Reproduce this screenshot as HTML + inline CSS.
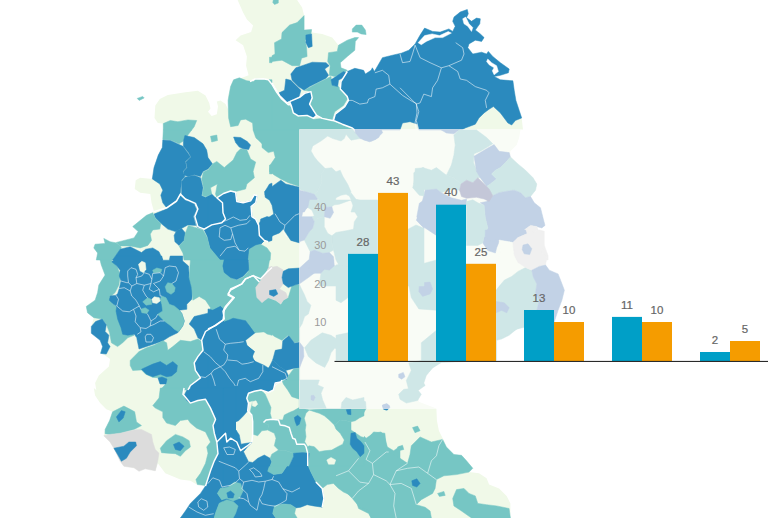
<!DOCTYPE html><html><head><meta charset="utf-8"><style>
html,body{margin:0;padding:0;background:#fff}
body{width:768px;height:518px;position:relative;overflow:hidden;font-family:"Liberation Sans",sans-serif}
.v{position:absolute;width:30px;text-align:center;font-size:11.5px;line-height:12px;color:#666;-webkit-text-stroke:0.2px #666}
.t{position:absolute;left:305.4px;width:21px;text-align:right;font-size:11px;line-height:12px;color:#9a9a9a}
</style></head><body>
<svg width="768" height="518" viewBox="0 0 768 518" style="position:absolute;left:0;top:0">
<defs><clipPath id="pc"><rect x="299.5" y="129.5" width="468.5" height="279.1"/></clipPath></defs>
<g><path d="M237.6,0L243.1,12.5L246.9,19.6L253.1,25.6L251.1,32.1L240.6,35.6L235.6,40.2L243.1,45.2L246.9,56.5L246.1,65.7L248.6,75.3L240.6,78.3L233.6,79.8L230.6,86.6L228.1,96.6L228.6,110.4L225.5,104.1L220.5,100.4L216.8,101.6L218,106.6L216.8,114.2L211.7,115.9L208,111.7L210.5,108.4L209.2,102.9L205.5,95.4L197.9,90.8L185.4,92.3L167.8,94.9L159.8,99.1L155.3,105.4L154.5,117.9L157.8,123L162.8,123.5L163.3,130L162.8,140L162.3,147.6L158.3,155.1L154,167.6L152.3,178.9L140.2,177.7L135.7,180.2L134.7,189L140.2,192.7L150.3,194L151.5,202.8L154,211.6L146.5,215.3L140.2,221.6L132.7,226.6L138.2,231.6L134,237.9L116.4,242.4L110.1,241.7L103.8,238.4L105.1,243.4L95.1,244.2L93.8,247.9L97.6,253L96.3,260L100.1,260L101.3,265L105.1,275.1L98.8,285.1L97.6,292.6L95.1,300.2L86.3,306.4L87.5,312.7L93.8,317.7L91.3,326.5L91.3,332.8L100.1,340.3L102.6,346.6L100.1,352.8L105.1,355.4L110.1,359.1L108.9,366.6L98.8,375.4L95.1,383L96.3,390L93.8,388L95.1,395.5L100.1,403.1L106.3,409.3L112.6,411.8L109.6,420.6L105.1,429.4L103.8,435.7L110.1,442L113.9,448.2L120.2,460.8L123.9,465.8L134,467.8L139,470.8L145.2,468.3L155.3,470.8L157.8,463.3L165.3,473.3L180.4,479.6L190.4,480.8L196.7,484.6L205.5,485.9L200.5,493.4L190.4,503.4L185.4,511L180.4,518L510.4,518L510.4,503.4L506.6,495.9L499.1,488.4L489.1,484.6L486.6,478.3L479,473.3L469,472.1L472.8,468.3L466.5,460.8L461.5,455.3L453.9,454.5L446.4,447L443.9,440.7L438.9,430.7L436.9,420.6L436.4,408.6L418.8,401.8L418.8,390L425.1,385.5L423.8,383L426.3,375.4L432.6,367.9L441.4,362.4L496.6,340.3L506.7,335.4L514.2,330.4L524.2,325.4L539.3,325.4L554.3,321.8L558.1,310.3L561.9,300.3L564.4,290.2L560.6,280.2L558.1,273.9L549.3,270.2L545.6,265.1L546.8,257.6L541.8,252.6L544.3,245.1L544.3,245.4L540.5,235.4L536.8,226.6L541.8,227.9L545,225.4L543,217.8L540.5,207.8L534.3,202.8L530.5,196.5L535.5,190.2L536.8,184L533,177.7L525.5,170.2L517.9,163.9L510.4,156.3L510.4,151.3L516.7,145.1L519.2,137.5L520.5,130L523,130L521.7,117.9L519.2,110.4L515.9,100.4L514.2,90.3L512.9,80.8L500.4,79.8L494.1,76.5L500.4,75.3L508.4,72.8L509.2,69L500.4,62.7L492.8,56.5L488.3,51.4L486.6,54L481.6,52.2L472.8,54L467.8,47.7L469,43.9L475.3,40.2L481.6,41.4L484.1,37.6L480.3,33.9L475.3,30.1L479.8,23.8L480.3,18.8L476.5,18.1L471.5,21.3L466.5,17.6L468.3,13.8L467.3,9.5L460.2,12L454,17.1L452.7,21.3L455.2,26.3L452.7,31.4L448.9,28.9L440.2,32.1L432.6,31.4L424.6,28.1L420.1,35.1L415.1,43.9L408.8,50.2L401.3,53.2L392.5,55.2L382.4,57.7L374.4,71.5L372.4,67.8L371.1,70.3L365.4,74L363.6,70.3L354.8,68.3L347.3,71.5L347.3,70.3L341,67.8L340.3,62.7L347.3,56.5L354.8,50.2L355.3,41.4L358.6,37.6L354.8,37.6L347.3,40.2L338.5,45.2L332.2,37.6L322.2,33.9L312.2,32.6L311.6,29.6L304.1,30.1L304.1,15.6L302.1,7.5L297.1,0Z" fill="#f0f9e8"/>
<path d="M137.2,98.4L142.7,96.4L144.2,97.9L139.2,100.4Z" fill="#76c6c4" stroke="#76c6c4" stroke-width="0.5"/>
<path d="M163.3,130L163.3,123.5L170.3,120.5L177.9,121.7L187.9,119.9L196.7,120.5L194.2,126.7L191.7,130Z" fill="#76c6c4" stroke="#76c6c4" stroke-width="0.5"/>
<path d="M230.6,86.6L233.6,79.8L239.3,77.8L246.9,80.8L253.7,81.6L255.7,79L272,79.8L272,130L253.1,130L252.6,123L245.6,119.2L240.6,119.9L238.1,125.5L230.6,126.7L228.6,117.9L228.1,100.4Z" fill="#76c6c4" stroke="#76c6c4" stroke-width="0.5"/>
<path d="M269.5,57.2L272,57.2L272,62.7L269.5,62.7Z" fill="#76c6c4" stroke="#76c6c4" stroke-width="0.5"/>
<path d="M273.3,0L278.3,0L278.3,3L274.5,4.5L272.8,2.5Z" fill="#76c6c4" stroke="#76c6c4" stroke-width="0.5"/>
<path d="M304.1,15.6L297.1,22.6L289.6,25.1L282,32.6L281.5,38.9L274.5,42.7L275,54L272,55.7L272,61.5L282,60.2L292.1,65.7L299.6,65.7L301.6,58.2L307.1,56.5L306.6,47.7L305.1,40.2L310.9,33.9L311.6,29.6L304.1,30.1Z" fill="#76c6c4" stroke="#76c6c4" stroke-width="0.5"/>
<path d="M305.9,35.1L311.6,33.9L312.2,46.4L308.4,47.7L305.9,42.7Z" fill="#2b8abe" stroke="#2b8abe" stroke-width="0.5"/>
<path d="M354.8,37.6L347.3,40.2L338.5,45.2L337.2,51.4L328.5,52.7L327.7,61.5L330.2,65.7L329.2,75.3L334.7,76.5L344.8,72.8L347.3,70.3L341,67.8L340.3,62.7L347.3,56.5L354.8,50.2L355.3,41.4L358.6,37.6Z" fill="#76c6c4" stroke="#76c6c4" stroke-width="0.5"/>
<path d="M352.3,28.9L356.1,25.1L361.8,25.1L365.4,30.1L366.1,34.6L361.1,33.9L357.3,32.1L352.3,32.1Z" fill="#76c6c4" stroke="#76c6c4" stroke-width="0.5"/>
<path d="M295.8,67.8L302.1,65.7L312.2,62.2L326,62.7L329.2,65.7L324.7,69L328.5,75.3L326,78.3L317.2,82.8L309.6,86.6L304.1,90.3L298.3,86.6L292.1,80.3L290.8,74Z" fill="#2b8abe" stroke="#2b8abe" stroke-width="0.5"/>
<path d="M285.8,79L290.8,80.3L297.1,86.6L300.9,90.3L299.1,96.6L290.8,100.4L287.1,102.9L279.5,95.4L279,92.8L284.5,90.3Z" fill="#2b8abe" stroke="#2b8abe" stroke-width="0.5"/>
<path d="M289.6,101.6L299.6,97.4L304.6,93.4L310.9,91.6L312.2,97.9L309.6,104.1L313.4,110.4L316.7,115.4L313.4,118.4L307.1,115.4L298.3,115.9L293.3,112.9L291.6,106.6Z" fill="#2b8abe" stroke="#2b8abe" stroke-width="0.5"/>
<path d="M304.6,90.3L317.2,83.3L326,79L331,76.5L332.2,85.3L338.5,86.6L344.8,93.4L347.3,99.1L343.5,105.4L334.7,111.7L332.2,119.9L322.2,117.9L316.7,115.4L313.4,110.4L310.1,104.1L312.2,97.9L310.9,91.6Z" fill="#76c6c4" stroke="#76c6c4" stroke-width="0.5"/>
<path d="M331,79.8L343.5,71.5L346,72.8L343.5,77.3L338.5,80.3L337.7,86.6L332.2,85.3Z" fill="#2b8abe" stroke="#2b8abe" stroke-width="0.5"/>
<path d="M272,82.8L279.5,95.4L287.1,102.9L291.6,107.9L293.3,113.4L298.3,116.7L307.1,115.9L314.2,119.2L322.2,118.4L332.2,120.5L342.3,124.7L352.3,128.5L352.3,130L272,130Z" fill="#76c6c4" stroke="#76c6c4" stroke-width="0.5"/>
<path d="M341,81.6L347.3,71.5L354.8,68.3L363.6,70.3L365.4,74L371.1,70.3L372.4,67.8L374.4,71.5L382.4,57.7L392.5,55.2L401.3,53.2L408.8,50.2L415.1,43.9L420.1,35.1L424.6,28.1L432.6,31.4L440.2,32.1L448.9,28.9L452.7,31.4L455.2,26.3L452.7,21.3L454,17.1L460.2,12L467.3,9.5L468.3,13.8L466.5,17.6L471.5,21.3L476.5,18.1L480.3,18.8L479.8,23.8L475.3,30.1L480.3,33.9L484.1,37.6L481.6,41.4L475.3,40.2L469,43.9L467.8,47.7L472.8,54L481.6,52.2L486.6,54L488.3,51.4L492.8,56.5L500.4,62.7L509.2,69L508.4,72.8L500.4,75.3L494.1,76.5L500.4,79.8L512.9,80.8L514.2,90.3L515.9,100.4L519.2,110.4L521.7,117.9L515.4,120.5L511.7,125L507.9,123L500.4,112.9L493.4,106.6L489.1,109.2L484.1,112.9L479,117.9L475.3,124.2L465.2,128L461.5,130L418.8,130L417.6,124.2L410,121.7L402.5,123L400,130L354.8,130L352.3,128L342.3,124.2L333.5,120.5L335.3,114.2L344.8,106.6L348.6,100.4L347.3,96.6L340.3,89.1Z" fill="#2b8abe" stroke="#2b8abe" stroke-width="0.5"/>
<path d="M418.1,42.7L424.6,35.6L432.1,33.9L439.6,35.6L448.2,31.6L451.4,33.1L442.7,37.6L435.1,37.6L426.3,41.4L421.3,44.7Z" fill="#ffffff" stroke="#ffffff" stroke-width="0.5"/>
<path d="M487.8,59L491.6,62.7L496.6,65.7L498.4,71.5L494.1,74.8L492.3,70.8L494.1,67.8L489.1,64.7L486.6,61.5Z" fill="#ffffff" stroke="#ffffff" stroke-width="0.5"/>
<path d="M462.7,18.8L465.7,17.1L469,23.8L472.8,27.6L471.5,31.4L467.8,26.3L464,23.8Z" fill="#ffffff" stroke="#ffffff" stroke-width="0.5"/>
<path d="M163.3,130L191.7,130L187.9,135L182.9,141.3L179.1,143.8L170.3,140L162.8,139.5Z" fill="#76c6c4" stroke="#76c6c4" stroke-width="0.5"/>
<path d="M162.8,140L170.3,140.5L179.1,144.6L182.9,146.3L188.4,153.8L190.4,157.1L185.4,161.4L186.6,167.6L182.9,171.4L184.9,176.4L181.6,180.2L180.4,192.7L176.6,200.3L166.6,207.8L162.8,202.8L160.8,195.2L162.8,190.2L159.8,184L152.3,178.9L154,167.6L158.3,155.1L162.3,147.6Z" fill="#2b8abe" stroke="#2b8abe" stroke-width="0.5"/>
<path d="M183.4,141.3L184.9,135.5L194.2,137.5L203,143.8L206.7,150.1L208,157.6L212.5,163.9L208,168.9L203,171.4L200.5,176.4L194.2,174.7L188.4,176.4L184.1,175.2L183.4,171.4L187.2,167.6L185.9,162.1L190.9,157.1L188.4,152.6L183.4,146.3Z" fill="#2b8abe" stroke="#2b8abe" stroke-width="0.5"/>
<path d="M184.9,177.2L194.2,175.2L200.5,177.7L203,187.7L201.7,195.7L205.5,197.3L211.7,194L215.5,197.8L221.8,205.3L223,216.6L225.5,219.8L220.5,223.4L210.5,225.4L203,229.1L197.4,227.4L194.2,216.6L197.4,209.8L195.9,204L187.9,201.5L181.6,194.7L181.6,181.4Z" fill="#2b8abe" stroke="#2b8abe" stroke-width="0.5"/>
<path d="M154,214.1L166.6,209L176.6,202.3L180.4,195.7L185.4,200.3L194.2,204L196.7,209.8L193.4,216.6L195.9,225.4L187.9,224.9L180.4,229.1L175.4,231.6L167.8,229.1L160.3,222.8L155.3,217.8Z" fill="#2b8abe" stroke="#2b8abe" stroke-width="0.5"/>
<path d="M216.8,197.8L223.5,194L230.6,191.5L235.6,192.7L236.8,201.5L243.1,202.8L250.6,200.8L254.4,195.2L257.2,195.7L255.7,202.8L251.1,206.5L251.9,216.6L255.7,219.1L258.7,225.4L259.4,235.4L264.4,240.4L260.7,244.2L255.7,245.4L249.4,249.2L248.1,260L220.5,260L216.8,255.5L210.5,247.9L208,237.9L204.2,229.9L211.7,225.4L221.8,223.4L226,219.8L223.5,212.8L222.5,202.8Z" fill="#2b8abe" stroke="#2b8abe" stroke-width="0.5"/>
<path d="M260.7,219.1L267,216.6L272,217.8L272,240.4L268.2,241.7L264.4,239.9L260.2,234.9L259.4,225.4Z" fill="#2b8abe" stroke="#2b8abe" stroke-width="0.5"/>
<path d="M265.7,190.2L269.5,184L272,183.2L272,199L268.2,197.8L265.2,194.7Z" fill="#2b8abe" stroke="#2b8abe" stroke-width="0.5"/>
<path d="M212.5,163.9L216.8,161.4L224.3,167.6L225.5,166.4L233.1,160.1L236.8,152.6L240.6,148.8L246.9,150.1L250.6,158.9L255.7,162.1L253.1,171.4L254.4,177.7L246.9,184L245.6,189L235.6,191.5L230.6,191L223.5,193.5L216.8,197.3L215.5,194L217.3,184L210.5,187.7L211.7,194L205.5,196.8L202.2,195.2L203.5,187.7L201.7,178.9L203.5,171.9L208.5,169.4Z" fill="#76c6c4" stroke="#76c6c4" stroke-width="0.5"/>
<path d="M253.1,130L272,130L272,148.8L265.7,147.6L260.7,142.5L255.7,137.5Z" fill="#76c6c4" stroke="#76c6c4" stroke-width="0.5"/>
<path d="M269.5,165.1L272,165.1L272,173.9L269.5,173.9Z" fill="#76c6c4" stroke="#76c6c4" stroke-width="0.5"/>
<path d="M210.5,136.3L216.8,135L217.5,140.5L211.7,142Z" fill="#76c6c4" stroke="#76c6c4" stroke-width="0.5"/>
<path d="M233.6,137L240.6,137.5L246.9,141.3L250.6,145.1L248.6,149.6L243.1,148.8L239.3,147.1L235.6,142.5Z" fill="#2b8abe" stroke="#2b8abe" stroke-width="0.5"/>
<path d="M103.8,238.4L110.1,241.7L116.4,242.9L120.2,245.9L121.4,247.9L112.6,260L96.3,260L97.6,253L93.8,247.9L95.1,244.2L105.1,243.4Z" fill="#76c6c4" stroke="#76c6c4" stroke-width="0.5"/>
<path d="M112.6,260L120.2,249.2L130.2,246.7L141.5,252.5L145.7,249.2L152.8,247.9L159,251.7L162.8,260Z" fill="#2b8abe" stroke="#2b8abe" stroke-width="0.5"/>
<path d="M132.7,226.6L146.5,215.3L152.8,212.8L155.3,218.3L160.8,223.4L159.8,229.1L152.8,229.9L150.3,234.1L151.5,240.4L147.8,245.4L140.2,247.9L130.2,245.9L120.2,245.9L116.4,242.4L134,237.9L138.2,231.6Z" fill="#76c6c4" stroke="#76c6c4" stroke-width="0.5"/>
<path d="M176.6,230.4L181.6,228.4L185.4,232.9L184.1,240.4L179.1,245.4L174.9,241.7L174.1,235.4Z" fill="#2b8abe" stroke="#2b8abe" stroke-width="0.5"/>
<path d="M185.4,232.9L188.4,225.4L196.7,227.9L203,229.9L207.5,237.9L210,247.9L216.8,255.5L220,260L184.1,260L182.9,253L179.1,245.9L184.1,240.4Z" fill="#76c6c4" stroke="#76c6c4" stroke-width="0.5"/>
<path d="M254.4,130L299.6,130L299.6,186.5L288.3,182.7L280.8,178.9L274.5,175.2L269.5,171.4L270.2,165.1L275.3,157.6L273.7,151.3L268.2,152.6L262,147.6L262,140L256.9,138.8Z" fill="#76c6c4" stroke="#76c6c4" stroke-width="0.5"/>
<path d="M264.5,191.5L273.2,185.7L280.8,180.2L285.8,184L299.6,187.2L299.6,242.9L290.8,240.4L283.3,229.1L279.5,232.9L273.2,235.4L267,240.4L260.7,232.9L259.4,222.8L264.5,220.3L273.7,214.1L272,205.3L269.5,200.3L265.2,197.3Z" fill="#2b8abe" stroke="#2b8abe" stroke-width="0.5"/>
<path d="M216.8,197.8L223.6,194L230.6,191.5L235.6,192.7L236.9,201.5L243.1,202.8L250.7,200.8L254.4,195.2L257.2,195.7L255.7,202.8L251.2,206.5L251.9,216.6L249.4,218.3L243.1,220.3L245.6,225.4L254.4,222.8L259.4,226.6L260.7,235.4L264.5,240.4L260.7,244.2L255.7,245.4L249.4,249.2L248.2,260L220.5,260L216.8,255.5L210.5,247.9L208,237.9L208,197.8Z" fill="#2b8abe" stroke="#2b8abe" stroke-width="0.5"/>
<path d="M248.2,260L249.4,249.2L255.7,245.4L260.7,244.2L267,247.9L270.7,253L270.2,260Z" fill="#76c6c4" stroke="#76c6c4" stroke-width="0.5"/>
<path d="M100.1,260L111.4,260L117.6,267.5L120.2,275.1L118.9,285.1L115.1,292.6L109.6,297.6L112.6,303.9L117.1,306.4L117.6,314L121.4,322.7L127.7,330.3L134,335.3L127.7,337.8L122.7,342.8L117.6,346.6L111.4,342.8L109.6,332.8L106.3,324L102.1,319L93.8,317.7L87.5,312.7L86.3,306.4L95.1,300.2L97.6,292.6L98.8,285.1L105.1,275.1L101.3,265Z" fill="#76c6c4" stroke="#76c6c4" stroke-width="0.5"/>
<path d="M91.3,326.5L95.6,321.5L102.1,319L106.3,324.7L105.1,331.5L108.9,335.3L107.6,342.8L110.1,346.6L106.3,354.1L100.6,353.4L102.6,346.6L100.1,340.3L91.3,333.3Z" fill="#2b8abe" stroke="#2b8abe" stroke-width="0.5"/>
<path d="M111.8,261.8L117.7,256L161.8,256L162.7,260.2L169.3,260.2L170.2,256L182.7,256L182.7,261L188.5,266L189.3,276.8L191.8,281L192.7,289.3L191.8,299.3L186.8,304.3L186.8,309.3L179.3,310.2L181.8,313.5L184.3,321L182.7,326L178.5,331.8L177.7,332.7L169.3,336.8L162.7,341L154,344L146.5,346.5L139,349L137.2,340.3L136.8,337.7L134.3,334.3L127.7,335.2L122.7,334.3L121,327.7L117.7,319.3L116,311L116.8,306L113.5,304.3L109.3,300.2L110.2,296L116,295.2L117.7,293.5L119.3,288.5L121,281L119.3,276L120.2,270.2L116.8,266Z" fill="#2b8abe" stroke="#2b8abe" stroke-width="0.5"/>
<path d="M161.8,296L166,297.7L169.3,304.3L174.3,306L179.3,310.2L181.8,313.5L184.3,321L182.7,326L178.5,331.8L174.3,329.3L171,326L164.3,321L161,317.7L157.7,314.3L162.7,311L161.8,304.3L160.2,299.3Z" fill="#76c6c4" stroke="#76c6c4" stroke-width="0.5"/>
<path d="M138.5,264.3L141.8,261.3L145.2,262.7L146,269.3L143.5,272.7L140.2,271Z" fill="#f0f9e8" stroke="#f0f9e8" stroke-width="0.5"/>
<path d="M152.7,270.2L156.8,268L161.8,269.3L161,272.3L153.5,272.7Z" fill="#76c6c4" stroke="#76c6c4" stroke-width="0.5"/>
<path d="M165.2,286.8L167.7,282.7L171.8,283.5L175.2,287.7L174.3,291.8L171,294.3L166.8,291.8Z" fill="#76c6c4" stroke="#76c6c4" stroke-width="0.5"/>
<path d="M142.7,301.8L147.7,297.7L151,299.3L151.8,304.3L146,305.2Z" fill="#76c6c4" stroke="#76c6c4" stroke-width="0.5"/>
<path d="M151.8,299.3L154.3,296.8L159.3,297.7L160.2,301L156.8,303.5L152.7,302.7Z" fill="#f0f9e8" stroke="#f0f9e8" stroke-width="0.5"/>
<path d="M140.7,309.3L145.2,307.7L149,310.2L146.8,313.5L141.8,312.7Z" fill="#76c6c4" stroke="#76c6c4" stroke-width="0.5"/>
<path d="M190.4,260L224.3,260L223,266.3L224.3,272.5L230.6,277.6L236.8,280.1L243.1,277.1L248.6,271.3L253.1,278.1L260.7,280.6L255.7,290.1L256.9,297.6L259.4,306.4L250.6,319L255.7,325.7L250.6,332.8L243.1,322.7L230.6,320.2L223,321.5L224.3,310.2L220.5,306.4L213,310.2L208,312.7L210.5,307.7L205.5,300.2L199.2,296.4L192.9,300.2L191.7,287.6L189.2,277.6Z" fill="#76c6c4" stroke="#76c6c4" stroke-width="0.5"/>
<path d="M256.9,297.6L265.7,300.2L272,305.2L272,335.3L267,334L255.7,325.7L250.6,319L259.4,306.4Z" fill="#76c6c4" stroke="#76c6c4" stroke-width="0.5"/>
<path d="M224.3,260L248.1,260L248.6,270L243.1,276.3L236.8,279.6L230.6,277.6L224.3,272.5L223,266.3Z" fill="#2b8abe" stroke="#2b8abe" stroke-width="0.5"/>
<path d="M249.4,260L268.2,260L267,270L260.7,280.1L253.1,277.6L248.6,271.3Z" fill="#76c6c4" stroke="#76c6c4" stroke-width="0.5"/>
<path d="M268.2,267.5L272,266.3L272,303.9L265.7,300.2L256.9,297.6L255.7,290.1L259.4,283.8L260.7,280.1L267,271.3Z" fill="#dcdcdc" stroke="#dcdcdc" stroke-width="0.5"/>
<path d="M268.7,289.6L272,289.6L272,295.1L268.7,295.1Z" fill="#2b8abe" stroke="#2b8abe" stroke-width="0.5"/>
<path d="M189.2,324L194.2,316.5L208,313.2L213,310.2L220.5,306.4L224.3,310.2L223,320.2L215.5,325.7L205.5,331.5L201.7,340.3L197.9,337.8L194.2,329Z" fill="#2b8abe" stroke="#2b8abe" stroke-width="0.5"/>
<path d="M205.5,331.5L215.5,325.7L224.3,320.2L243.1,322.7L253.1,326.5L255.7,332.3L245.6,340.3L246.9,345.3L254.4,351.6L251.9,357.9L255.7,361.6L264.4,365.4L268.2,367.9L272,365.4L272,390L190.4,390L190.4,385.5L200.5,377.9L195.4,370.4L194.2,362.9L197.9,356.6L203,350.3L201.7,340.3Z" fill="#2b8abe" stroke="#2b8abe" stroke-width="0.5"/>
<path d="M130.2,360.4L139,351.6L146.5,347.8L154,345.3L162.8,340.8L166.6,342.8L167.8,350.3L172.8,346.6L180.4,340.3L190.4,341.6L197.9,339L201.7,341.6L203,350.3L197.9,356.6L194.2,362.9L195.4,370.4L200.5,377.9L190.4,385.5L187.9,390L160.3,390L166.6,383L162.8,377.9L152.8,377.4L145.7,374.2L141.5,369.9L132.7,370.4L130.2,365.4Z" fill="#76c6c4" stroke="#76c6c4" stroke-width="0.5"/>
<path d="M141.5,369.2L152.8,364.1L160.3,361.6L166.6,365.4L172.8,361.6L177.4,365.4L176.6,371.7L171.6,375.9L166.6,376.7L160.3,374.2L152.8,376.7L146.5,374.2Z" fill="#2b8abe" stroke="#2b8abe" stroke-width="0.5"/>
<path d="M249.4,260L269.5,260L268.2,267.5L264.5,273.8L259.4,281.3L253.2,277.6L248.7,270.5Z" fill="#76c6c4" stroke="#76c6c4" stroke-width="0.5"/>
<path d="M235.6,297.6L230.6,290.1L241.9,283.8L245.6,278.8L253.2,276.3L259.4,282.1L255.7,288.1L256.9,297.6L262,302.7L268.2,298.1L275.8,300.7L280.8,304.4L283.3,300.2L288.3,297.6L292.1,285.1L299.6,284.6L299.6,341.6L294.6,342.8L288.3,335.3L282,340.3L274.5,336.5L268.2,331.5L254.4,332.8L245.6,320.2L233.1,317.7L224.3,321.5L223.1,310.2L226.8,306.4L234.3,297.6Z" fill="#76c6c4" stroke="#76c6c4" stroke-width="0.5"/>
<path d="M255.7,287.6L259.4,282.6L267,275.1L270.7,267.5L277,266.3L283.3,270L282,277.6L283.3,283.8L279.5,288.9L285.8,292.6L287.8,297.6L283.3,300.2L280.8,303.9L275.8,300.2L268.2,297.6L262,302.7L256.9,297.6Z" fill="#dcdcdc" stroke="#dcdcdc" stroke-width="0.5"/>
<path d="M269.5,290.6L275.8,289.6L277.8,293.9L273.7,296.4L269.5,294.6Z" fill="#2b8abe" stroke="#2b8abe" stroke-width="0.5"/>
<path d="M283.3,271.3L288.3,268.8L299.6,268L308.4,260L333.5,260L333.5,267.5L328.5,271.3L318.4,270L308.4,277.6L299.6,283.8L294.6,285.1L288.3,287.6L283.3,283.8L282,277.6Z" fill="#2b8abe" stroke="#2b8abe" stroke-width="0.5"/>
<path d="M224.3,260L248.2,260L248.7,270L243.1,275.6L236.9,278.8L230.6,277.1L224.3,272L223.1,265.5Z" fill="#2b8abe" stroke="#2b8abe" stroke-width="0.5"/>
<path d="M275.3,350.3L282,349.1L282.8,340.8L288.8,335.8L294.6,343.3L299.6,342.3L303.4,347.3L303.9,356.6L301.4,362.9L299.6,367.9L293.3,368.4L285.8,370.4L279.5,366.6L272.7,359.9Z" fill="#2b8abe" stroke="#2b8abe" stroke-width="0.5"/>
<path d="M208,327.8L218,320.2L224.3,322.2L233.1,318.2L245.6,320.7L254.4,332.8L244.4,340.3L246.9,345.8L254.4,351.6L251.9,354.9L254.4,361.6L262,365.4L268.2,369.2L272.7,359.9L279.5,366.6L285.8,370.4L288.3,375.4L285.8,383L278.3,383L273.7,390L208,390Z" fill="#2b8abe" stroke="#2b8abe" stroke-width="0.5"/>
<path d="M208,308.9L213,310.2L220.5,306.4L224.3,310.2L223.1,320.2L215.5,325.7L208,329Z" fill="#2b8abe" stroke="#2b8abe" stroke-width="0.5"/>
<path d="M288.3,375.9L293.3,369.2L299.6,367.9L299.6,390L273.7,390L278.3,383L285.8,383Z" fill="#76c6c4" stroke="#76c6c4" stroke-width="0.5"/>
<path d="M299.6,285.1L304.6,295.1L307.1,301.4L310.9,305.2L308.4,314L304.6,316.5L302.1,324L299.6,327.8Z" fill="#76c6c4" stroke="#76c6c4" stroke-width="0.5"/>
<path d="M304.6,347.8L310.9,340.3L322.2,332.8L331,335.3L338.5,340.3L344.8,346.6L342.3,349.8L334.7,348.3L331,352.8L328.5,360.4L324.7,367.4L315.9,362.9L308.4,356.6Z" fill="#76c6c4" stroke="#76c6c4" stroke-width="0.5"/>
<path d="M337.2,266.3L347.3,265L347.3,287.6L341,285.1L337.2,277.6Z" fill="#76c6c4" stroke="#76c6c4" stroke-width="0.5"/>
<path d="M112.6,411.8L123.9,406.1L130.2,409.3L134.7,411.8L136.5,421.9L141.5,425.6L134,429.4L120.2,433.2L110.1,434.4L105.1,433.7L105.1,429.4L109.6,420.6Z" fill="#76c6c4" stroke="#76c6c4" stroke-width="0.5"/>
<path d="M116.4,416.9L121.4,410.6L125.2,411.8L123.2,418.1L118.9,421.9Z" fill="#2b8abe" stroke="#2b8abe" stroke-width="0.5"/>
<path d="M103.8,435.7L110.1,434.4L120.2,433.2L134,429.9L141.5,429.4L151.5,434.4L152.8,442L155.3,449.5L159,453.2L157.8,460.8L155.3,470.8L145.2,468.8L139,471.3L134,467.8L123.9,466.3L120.2,461.3L113.9,448.2L110.1,442Z" fill="#dcdcdc" stroke="#dcdcdc" stroke-width="0.5"/>
<path d="M113.9,448.2L123.9,446.2L128.9,442L135.7,442L136.5,445.7L130.2,452L126.4,458.3L121.4,461.3L117.6,454.5Z" fill="#2b8abe" stroke="#2b8abe" stroke-width="0.5"/>
<path d="M160.3,448.2L166.6,440.7L175.4,434.4L182.9,436.9L189.2,440.7L190.4,447L185.4,450.7L180.4,456.3L175.4,453.7L167.8,453.2L161.6,452.7Z" fill="#76c6c4" stroke="#76c6c4" stroke-width="0.5"/>
<path d="M173.4,444.5L179.1,442L184.1,446.2L180.4,450.7L175.4,449.5Z" fill="#2b8abe" stroke="#2b8abe" stroke-width="0.5"/>
<path d="M152.8,405.6L159,398L160.3,388L184.1,388L182.9,394.3L186.6,400.5L190.4,403.1L197.9,400.5L205.5,399.3L210.5,408.1L215.5,419.4L213,425.6L214.3,433.2L216.8,442L218,453.7L214.3,460.8L210.5,470.8L205.5,485.4L197.4,484.6L195.9,479.6L200.5,473.3L205.5,463.3L208,453.2L206.7,447L210.5,442L205.5,431.9L196.7,428.2L190.4,423.1L187.9,419.4L180.4,420.6L175.4,425.6L166.6,423.1L162.8,417.6L162.8,411.8L155.3,408.1Z" fill="#76c6c4" stroke="#76c6c4" stroke-width="0.5"/>
<path d="M184.1,395.5L186.6,390.5L191.7,388L272,388L272,518L180.4,518L185.4,511L190.4,503.4L200.5,493.4L205.5,485.9L210.5,470.8L214.3,460.8L218,453.7L216.8,442L214.3,433.2L213,425.6L215.5,419.4L210.5,408.1L205.5,399.3L197.9,400.5L190.4,403.1L186.6,400.5Z" fill="#2b8abe" stroke="#2b8abe" stroke-width="0.5"/>
<path d="M236.8,421.9L243.1,417.6L250.6,415.6L253.1,423.1L251.9,435.7L245.6,441.2L240.6,442L238.1,433.2Z" fill="#f0f9e8" stroke="#f0f9e8" stroke-width="0.5"/>
<path d="M248.6,394.3L253.1,391L260.7,391.8L267,390.5L272,391.8L272,434.4L265.7,431.9L259.4,434.4L254.4,435.7L252.6,423.1L250.6,415.1L253.1,410.6L249.4,403.1Z" fill="#76c6c4" stroke="#76c6c4" stroke-width="0.5"/>
<path d="M253.7,403.1L260.7,401L265.2,406.8L261.9,410.6L255.7,409.3Z" fill="#f0f9e8" stroke="#f0f9e8" stroke-width="0.5"/>
<path d="M264.4,421.9L272,420.6L272,430.7L267,431.2L263.7,426.9Z" fill="#f0f9e8" stroke="#f0f9e8" stroke-width="0.5"/>
<path d="M244.4,453.7L240.6,450.7L246.9,446.2L251.1,442.7L255.7,439.4L259.4,435.2L265.7,432.7L272,435.2L272,453.7L265.7,455.8L258.2,460.8L253.1,459.5L248.1,455.8Z" fill="#f0f9e8" stroke="#f0f9e8" stroke-width="0.5"/>
<path d="M217.5,493.4L220.5,488.4L228.1,487.1L234.3,482.1L240.6,483.4L243.1,490.9L239.3,498.4L233.1,500.9L226.8,498.4L221.8,499.7Z" fill="#76c6c4" stroke="#76c6c4" stroke-width="0.5"/>
<path d="M226.8,492.9L230.6,490.9L234.3,493.9L233.1,497.9L228.1,497.9Z" fill="#2b8abe" stroke="#2b8abe" stroke-width="0.5"/>
<path d="M215.5,513.5L219.3,503.4L226.8,499.7L233.1,501.4L238.1,505.9L235.6,513.5L233.1,518L214.3,518Z" fill="#76c6c4" stroke="#76c6c4" stroke-width="0.5"/>
<path d="M267,463.3L272,463.3L272,474.6L268.2,473.3Z" fill="#76c6c4" stroke="#76c6c4" stroke-width="0.5"/>
<path d="M223.1,388L274.5,388L273.7,391.8L268.2,393L258.2,390.5L249.4,394.3L248.2,400.5L249.4,411.8L244.4,416.9L238.1,420.6L235.6,425.6L237.6,436.9L240.6,442L239.4,448.2L246.9,443.7L250.7,445.7L245.6,450.7L244.4,455.3L250.7,460.8L262,457L270.2,453.7L273.7,458.3L269.5,465.8L267.7,471.3L273.7,474.6L282,473.3L287,465.8L294.6,457L304.6,455.3L307.1,463.3L310.9,472.1L315.9,482.1L322.2,488.4L323.9,498.4L322.2,507.2L313.4,505.9L307.1,504.7L300.8,507.2L295.8,507.9L290.8,504.7L283.3,503.9L274.5,505.9L272.7,513.5L275.8,518L223.1,518Z" fill="#2b8abe" stroke="#2b8abe" stroke-width="0.5"/>
<path d="M236.9,421.9L243.1,417.6L250.7,416.1L253.2,423.1L251.9,435.7L245.6,441.2L240.6,442L238.1,433.2Z" fill="#f0f9e8" stroke="#f0f9e8" stroke-width="0.5"/>
<path d="M217.5,493.4L220.5,488.4L228.1,487.1L234.3,482.1L240.6,483.4L243.1,490.9L239.4,498.4L233.1,500.9L226.8,498.4L221.8,499.7Z" fill="#76c6c4" stroke="#76c6c4" stroke-width="0.5"/>
<path d="M226.8,492.9L230.6,490.9L234.3,493.9L233.1,497.9L228.1,497.9Z" fill="#2b8abe" stroke="#2b8abe" stroke-width="0.5"/>
<path d="M215.5,513.5L219.3,503.4L226.8,499.7L233.1,501.4L238.1,505.9L235.6,513.5L233.1,518L214.3,518Z" fill="#76c6c4" stroke="#76c6c4" stroke-width="0.5"/>
<path d="M249.4,394.3L258.2,390.5L268.2,393.5L269.5,403.1L270.7,411.8L265.7,415.6L262,423.1L256.9,429.4L253.2,435.7L253.2,423.1L251.2,416.1L253.7,410.6L249.4,403.1Z" fill="#76c6c4" stroke="#76c6c4" stroke-width="0.5"/>
<path d="M288.8,388L299.6,388L322.2,388L323.4,398L318.4,403.1L313.4,408.6L299.6,408.6L299.6,398L293.3,398.5L290.8,393Z" fill="#76c6c4" stroke="#76c6c4" stroke-width="0.5"/>
<path d="M309.6,396.8L312.9,395L314.6,398.5L311.4,401Z" fill="#2b8abe" stroke="#2b8abe" stroke-width="0.5"/>
<path d="M264.5,423.1L270.7,420.6L280.8,421.1L283.3,416.9L288.3,413.1L294.6,409.3L299.6,408.6L308.4,410.6L304.6,415.6L306.4,423.1L304.6,431.9L305.9,442L308.4,448.2L307.1,455.3L294.6,457L287,465.8L282,473.3L273.7,474.6L267.7,471.3L269.5,465.8L273.7,458.3L278.3,453.7L275.3,448.2L274.5,438.2L275.8,433.2L270.2,430.7L265.2,428.2Z" fill="#76c6c4" stroke="#76c6c4" stroke-width="0.5"/>
<path d="M294.6,416.9L298.8,415.6L300.3,420.6L297.1,425.6L294.6,421.9Z" fill="#2b8abe" stroke="#2b8abe" stroke-width="0.5"/>
<path d="M308.4,448.2L313.4,446.2L320.9,448.2L331,450.7L338.5,445.7L344.8,442L348.5,438.2L352.3,433.2L358.6,430.7L366.1,438.2L373.6,433.2L381.1,431.9L384.9,438.2L387.4,447L393.7,450.7L400,446.2L400,518L371.1,518L368.6,513.5L358.6,508.5L356.1,500.9L352.3,495.9L343.5,492.1L338.5,488.4L333.5,483.4L327.2,484.6L322.2,488.4L315.9,482.1L310.9,472.1L307.1,463.3Z" fill="#76c6c4" stroke="#76c6c4" stroke-width="0.5"/>
<path d="M326.4,459.5L332.2,457.8L337.2,461.3L333.5,464.5L327.9,463.8Z" fill="#f0f9e8" stroke="#f0f9e8" stroke-width="0.5"/>
<path d="M349.8,434.4L356.1,433.2L358.6,440.7L363.6,445.7L362.3,453.2L358.6,455.8L354.8,449.5L349.8,445.2Z" fill="#2b8abe" stroke="#2b8abe" stroke-width="0.5"/>
<path d="M371.1,503.4L376.6,503.9L381.1,501.4L381.7,507.2L376.6,509.7Z" fill="#2b8abe" stroke="#2b8abe" stroke-width="0.5"/>
<path d="M325.9,413.1L327.2,408.6L366.1,408.6L365.6,401.8L358.6,398L353.5,399.3L347.3,396.8L341,403.1L342.3,408.6L366.1,408.6L363.6,413.1L356.1,418.1L352.3,423.1L356.1,429.4L352.3,433.2L348.5,438.2L344.8,429.4L338.5,423.1L333.5,418.1Z" fill="#76c6c4" stroke="#76c6c4" stroke-width="0.5"/>
<path d="M299.6,408.6L327.2,408.6L325.9,413.1L320.9,414.1L313.4,413.1L308.4,411.1Z" fill="#76c6c4" stroke="#76c6c4" stroke-width="0.5"/>
<path d="M346,409.3L351,409.3L351.5,414.3L347.3,415.1Z" fill="#2b8abe" stroke="#2b8abe" stroke-width="0.5"/>
<path d="M382.4,405.1L386.7,403.6L389.9,406.1L387.4,410.1L383.7,409.3Z" fill="#2b8abe" stroke="#2b8abe" stroke-width="0.5"/>
<path d="M272.7,513.5L274.5,505.9L283.3,503.9L290.8,504.7L295.8,507.9L294.6,513.5L297.1,518L275.8,518Z" fill="#76c6c4" stroke="#76c6c4" stroke-width="0.5"/>
<path d="M398.7,394.3L403.8,389.3L416.3,388L421.3,394.3L417.6,400.5L406.3,403.1L400,399.3Z" fill="#76c6c4" stroke="#76c6c4" stroke-width="0.5"/>
<path d="M361.1,438.2L364.9,442L373.6,431.9L384.9,433.2L386.2,445.7L388.7,452L400,458.3L407.5,463.3L410,454.5L411.3,445.7L420.1,436.9L431.4,442L442.6,439.4L446.4,447L453.9,454.5L461.5,455.3L466.5,460.8L472.8,468.3L469,472.1L456.5,474.6L443.9,475.8L436.4,479.6L435.1,488.4L432.6,493.4L421.3,499.7L416.3,504.7L425.1,507.2L430.1,511L431.4,518L371.1,518L368.6,511L358.6,505.9L352.3,498.4L343.5,489.6L338.5,485.9L336,475.8L336,450.7L348.5,455.8L358.6,458.3L363.6,450.7Z" fill="#76c6c4" stroke="#76c6c4" stroke-width="0.5"/>
<path d="M452.7,498.4L456.5,489.6L464,488.4L469,493.4L475.3,495.9L477.8,503.4L486.6,504.7L496.6,505.9L509.1,508.5L510.4,518L471.5,518L461.5,511L453.9,505.9Z" fill="#76c6c4" stroke="#76c6c4" stroke-width="0.5"/>
<path d="M412.5,427.6L417.6,426.1L420.1,430.7L415,432.7Z" fill="#76c6c4" stroke="#76c6c4" stroke-width="0.5"/>
<path d="M397.5,447L402.5,445.2L403.8,449.5L398.7,450.7Z" fill="#76c6c4" stroke="#76c6c4" stroke-width="0.5"/>
<path d="M437.6,493.4L443.9,491.4L445.2,495.4L439.4,496.4Z" fill="#76c6c4" stroke="#76c6c4" stroke-width="0.5"/>
<path d="M411.8,480.8L416.8,478.8L420.1,483.4L416.8,487.1L412.5,485.4Z" fill="#2b8abe" stroke="#2b8abe" stroke-width="0.5"/>
<path d="M382.4,405.6L387.4,404.3L390,407.6L386.2,410.1L383.2,408.6Z" fill="#2b8abe" stroke="#2b8abe" stroke-width="0.5"/>
<path d="M354.8,130L381.2,130L378.7,137.5L371.1,141.3L363.6,140L358.6,135Z" fill="#2b8abe" stroke="#2b8abe" stroke-width="0.5"/>
<path d="M441.4,130L459,130L453.9,133.8L446.4,133Z" fill="#2b8abe" stroke="#2b8abe" stroke-width="0.5"/>
<path d="M453.9,135L459,130L476.5,130L486.6,137.5L492.8,143.8L486.6,147.6L480.3,151.3L474,153.8L473.5,162.6L476.5,170.2L481.5,177.7L477.8,177.7L472.8,182.7L466.5,180.2L461,184L453.9,177.7L446.4,175.2L451.4,165.1L453.9,155.1L455.2,145.1Z" fill="#76c6c4" stroke="#76c6c4" stroke-width="0.5"/>
<path d="M413.8,172.7L422.6,167.6L431.4,170.2L436.4,167.6L446.4,175.2L453.9,177.7L461,184L459.5,190.2L451.4,189L441.4,192.7L436.4,189L425.1,190.2L421.3,186.5L413.8,184Z" fill="#76c6c4" stroke="#76c6c4" stroke-width="0.5"/>
<path d="M425.1,190.2L436.4,189L441.4,192.7L451.4,197.8L461.5,200.3L466.5,199L466.5,205.3L436.4,205.3L436.4,235.4L428.8,230.4L421.3,225.4L416.3,220.3L420.1,210.3L422.6,200.3Z" fill="#2b8abe" stroke="#2b8abe" stroke-width="0.5"/>
<path d="M474,156.3L480.3,152.6L486.6,148.8L494.1,144.6L499.1,151.3L509.2,152.6L510.4,157.1L505.4,162.6L500.4,167.6L495.4,170.2L491.6,173.9L496.6,178.9L490.3,184L486.6,186.5L480.3,177.7L476.5,171.4L475.3,163.9Z" fill="#2b8abe" stroke="#2b8abe" stroke-width="0.5"/>
<path d="M491.6,173.9L495.4,170.2L500.4,167.6L505.4,162.6L510.4,157.1L517.9,163.9L525.5,170.2L533,177.7L536.8,184L535.5,190.2L530.5,196.5L525.5,197.8L520.5,192.7L514.2,190.2L505.4,191.5L499.1,192.7L492.8,195.7L489.1,190.2L486.6,186.5L490.3,184L496.6,178.9Z" fill="#76c6c4" stroke="#76c6c4" stroke-width="0.5"/>
<path d="M492.8,195.7L499.1,192.7L505.4,191.5L514.2,190.2L520.5,192.7L525.5,197.8L530.5,196.5L534.3,202.8L540.5,207.8L543,217.8L545,225.4L541.8,227.9L536.8,226.6L530.5,225.4L525.5,229.1L519.2,234.1L514.2,239.2L505.4,240.4L499.1,241.7L496.6,247.9L495.4,253L487.8,250.5L482.8,242.9L484.1,235.4L487.8,227.9L485.3,217.8L484.1,205.3L480.3,202.8L486.6,201.5Z" fill="#2b8abe" stroke="#2b8abe" stroke-width="0.5"/>
<path d="M511.7,242.9L517.9,236.6L525.5,229.1L530.5,225.4L536.8,226.6L540.5,235.4L544.3,245.4L548.1,255.5L548.1,260L512.9,260L514.2,250.5Z" fill="#dcdcdc" stroke="#dcdcdc" stroke-width="0.5"/>
<path d="M523,244.2L528,242.9L531.7,247.9L529.2,253L524.2,251.7Z" fill="#2b8abe" stroke="#2b8abe" stroke-width="0.5"/>
<path d="M466.5,201.5L472.8,199.8L477.8,202.8L484.1,205.3L485.3,217.8L487.8,227.9L484.1,235.4L482.8,242.9L477.8,245.4L466.5,245.4Z" fill="#76c6c4" stroke="#76c6c4" stroke-width="0.5"/>
<path d="M461,184L466.5,180.2L472.8,182.7L477.8,177.7L484.1,184L489.1,189L492.8,195.7L489.1,201.5L484.1,199L476.5,197.3L466.5,198.3L461.5,196.5L459.5,190.2Z" fill="#b9b9c6" stroke="#b9b9c6" stroke-width="0.5"/>
<path d="M408.8,267.5L436.4,260L496.6,285.1L511.7,282.6L528,287.6L528,326.5L516.7,329L509.1,335.3L501.6,339L496.6,340.3L496.6,360.4L441.4,362.4L432.6,367.9L426.3,375.4L423.8,383L425.1,385.5L418.8,390L408.8,390L406.3,380.5L411.3,370.4L408.8,362.9L421.3,360.4L421.3,342.8L436.4,330.3L436.4,310.2L418.8,308.9L411.3,297.6L408.8,285.1Z" fill="#76c6c4" stroke="#76c6c4" stroke-width="0.5"/>
<path d="M419.3,285.1L423.8,282.6L430.1,282.1L432.6,288.9L430.1,293.9L422.6,296.4L418.8,291.4Z" fill="#2b8abe" stroke="#2b8abe" stroke-width="0.5"/>
<path d="M496.6,303.9L502.9,302.2L507.9,307.7L506.6,314L500.4,315.7L496.6,311.4Z" fill="#2b8abe" stroke="#2b8abe" stroke-width="0.5"/>
<path d="M398.7,374.2L403.3,372.4L405,376.7L401.7,379.2L398.7,377.4Z" fill="#2b8abe" stroke="#2b8abe" stroke-width="0.5"/>
<path d="M336,265L348,262.5L348,297.6L341,302.7L336,300.2Z" fill="#76c6c4" stroke="#76c6c4" stroke-width="0.5"/>
<path d="M336,335.3L348,332.8L348,360.4L336,360.4Z" fill="#76c6c4" stroke="#76c6c4" stroke-width="0.5"/>
<path d="M299.3,129.3L352.7,129.3L355.2,132.7L360.2,138.5L351,140.2L346,134.3L344.3,138.5L341,141L332.7,138.5L327.7,136L321,141L312.7,146L311,151L314.3,156.8L317.7,161L325.2,168.5L321,174.3L321.8,182.7L317.7,191L314.3,194.3L306,191.8L299.3,189.3Z" fill="#76c6c4" stroke="#76c6c4" stroke-width="0.5"/>
<path d="M325.2,168.5L331.8,167.7L336,171.8L340.2,170.2L342.7,176L347.7,184.3L351,191.8L349.3,196L346,194.3L341,195.2L336,197.7L335.2,202.7L332.7,206L317.7,199.3L314.3,194.3L317.7,191L321.8,182.7L321,174.3Z" fill="#76c6c4" stroke="#76c6c4" stroke-width="0.5"/>
<path d="M355.2,129.3L381,129.3L382.7,132.7L379.3,136L376,139.3L369.3,141.8L362.7,139.3L360.2,138.5L355.2,132.7Z" fill="#2b8abe" stroke="#2b8abe" stroke-width="0.5"/>
<path d="M299.3,190.2L306,191.8L314.3,194.3L317.7,199.3L312.7,202.7L307.7,206L304.3,212L299.3,212Z" fill="#2b8abe" stroke="#2b8abe" stroke-width="0.5"/>
<path d="M351,192.7L356,199.3L362.7,201L377.7,201L377.7,212L351,212L353.5,204.3L349.3,196Z" fill="#76c6c4" stroke="#76c6c4" stroke-width="0.5"/>
<path d="M415.2,168.5L424,167.7L424,196L419.3,195.2L412.7,187.7L414.7,179.3Z" fill="#76c6c4" stroke="#76c6c4" stroke-width="0.5"/>
<path d="M309.3,200L351,200L339.3,204.2L333.5,205L331.8,206.7L325.2,207.5L324.3,216.7L317.7,218.3L314.3,221.7L311.8,216.7L314.3,215.8L311.8,210L307.7,207.5Z" fill="#76c6c4" stroke="#76c6c4" stroke-width="0.5"/>
<path d="M331.8,235.8L336,232.5L346,230.8L353.5,229.2L354.3,221.7L357.7,216.7L355.2,212.5L353.5,206.7L351,200L377.7,200L377.7,253.3L348.5,253.3L348.5,266.7L339.3,265.8L336,260L333.5,250L331.8,243.3Z" fill="#76c6c4" stroke="#76c6c4" stroke-width="0.5"/>
<path d="M312.7,228.3L314.3,221.7L317.7,218.3L324.3,216.7L324.3,226.7L327.7,233.3L331.8,235.8L331.8,243.3L333.5,250L329.3,252.5L322.7,253.3L314.3,250L310.2,251.7L304.3,240L309.3,231.7Z" fill="#76c6c4" stroke="#76c6c4" stroke-width="0.5"/>
<path d="M321,273.3L324.3,269.2L329.3,270L334.3,265.8L339.3,265.8L348.5,266.7L348.5,286L319.3,286L320.2,278.3Z" fill="#76c6c4" stroke="#76c6c4" stroke-width="0.5"/>
<path d="M408,229.2L416,225L424,228.3L424,286L408,286Z" fill="#76c6c4" stroke="#76c6c4" stroke-width="0.5"/>
<path d="M299.3,200L309.3,200L307.7,207.5L302.7,211.7L301.8,216.7L311.8,216.7L314.3,221.7L312.7,228.3L309.3,231.7L304.3,240L299.3,241.7Z" fill="#2b8abe" stroke="#2b8abe" stroke-width="0.5"/>
<path d="M325.2,207.5L331.8,206.7L333.5,212.5L330.2,218.3L324.3,216.7Z" fill="#2b8abe" stroke="#2b8abe" stroke-width="0.5"/>
<path d="M310.2,251.7L314.3,250L322.7,253.3L329.3,252.5L333.5,256.7L334.3,265.8L329.3,270L324.3,269.2L321,273.3L312.7,273.3L308.5,268.3L309.3,258.3Z" fill="#2b8abe" stroke="#2b8abe" stroke-width="0.5"/>
<path d="M419.3,203.3L424,200L424,228.3L420.2,223.3L416.8,216.7Z" fill="#2b8abe" stroke="#2b8abe" stroke-width="0.5"/>
<path d="M466.5,230L485.3,230L485.3,236.3L479.1,240L466.5,241.3Z" fill="#76c6c4" stroke="#76c6c4" stroke-width="0.5"/>
<path d="M485.3,230L525.5,230L526.7,233.8L518,237.5L512.9,242.5L499.1,240L489.1,241.3L485.3,236.3Z" fill="#2b8abe" stroke="#2b8abe" stroke-width="0.5"/>
<path d="M496.1,262.6L500.4,252.6L499.1,240L512.9,242.5L514.2,255.1L518,262.6L518,271.4L511.7,276.4L504.2,280.2L499.1,286.5L496.1,290.2Z" fill="#f0f9e8" stroke="#f0f9e8" stroke-width="0.5"/>
<path d="M499.1,286.5L504.2,280.2L511.7,276.4L518,271.4L525.5,267.6L531.8,270.2L533,276.4L536.8,284L535.5,292.7L539.3,300.3L536.8,310.3L524.2,310.3L524.2,325.4L514.2,330.4L506.7,335.4L499.1,337.9L496.1,337.9L496.1,312.8L501.6,310.3L506.7,312.8L509.2,307.8L504.2,302.8L496.1,301.5L496.1,290.2Z" fill="#76c6c4" stroke="#76c6c4" stroke-width="0.5"/>
<path d="M496.1,301.5L504.2,302.8L509.2,307.8L506.7,312.8L501.6,310.3L496.1,312.8Z" fill="#2b8abe" stroke="#2b8abe" stroke-width="0.5"/>
<path d="M512.9,242.5L518,237.5L526.7,233.8L539.3,230L544.3,231.3L544.3,245.1L541.8,252.6L546.8,257.6L545.6,265.1L539.3,266.4L531.8,270.2L525.5,267.6L518,262.6L514.2,255.1Z" fill="#dcdcdc" stroke="#dcdcdc" stroke-width="0.5"/>
<path d="M523,245.1L528,243.8L531.8,248.8L529.7,254.6L524.2,253.8L522.2,249.6Z" fill="#2b8abe" stroke="#2b8abe" stroke-width="0.5"/>
<path d="M531.8,270.2L539.3,266.4L545.6,265.1L549.3,270.2L558.1,273.9L560.6,280.2L564.4,290.2L561.9,300.3L558.1,310.3L554.3,321.8L539.3,325.4L536.8,310.3L539.3,300.3L535.5,292.7L536.8,284L533,276.4Z" fill="#2b8abe" stroke="#2b8abe" stroke-width="0.5"/>
<path d="M236,380L364,380L364,466L236,466Z" fill="#f0f9e8"/>
<path d="M236,380L281.8,380L281,382L275.2,383L273.5,390L268.5,392.5L261,390L254.3,391.3L248.5,393.3L246.8,398.3L248.5,403.3L247.7,410.8L243.5,415.8L238.5,420.8L236,421.7Z" fill="#2b8abe" stroke="#2b8abe" stroke-width="0.5"/>
<path d="M248.5,393.3L254.3,391.3L261,390L265.2,394.2L268.5,401.7L271,407.5L270.2,413.3L271.8,419.2L266,420L263.5,422.5L268.5,425L267.7,430L261.8,430.8L257.7,435.8L252.7,434.2L252.7,421.7L251.8,415L250.2,411.7L251.8,405L252.7,400.8L249.3,401.7L246.8,398.3Z" fill="#76c6c4" stroke="#76c6c4" stroke-width="0.5"/>
<path d="M252.3,401.7L256,400.8L257.7,404.2L255.2,406.7L252.3,405.8Z" fill="#f0f9e8" stroke="#f0f9e8" stroke-width="0.5"/>
<path d="M281.8,380L299.3,380L319.3,380L317.7,385L323.5,387.5L321,393.3L322.7,400L326,407.5L326,408.7L299.3,408.7L299.3,399.2L291.8,396.7L287.7,390L283.5,384.2Z" fill="#76c6c4" stroke="#76c6c4" stroke-width="0.5"/>
<path d="M311,395.8L313.5,395L315.2,397.5L313.5,400.8L311,399.7Z" fill="#2b8abe" stroke="#2b8abe" stroke-width="0.5"/>
<path d="M341.8,402.5L346,397.5L352.7,400L364,397.5L364,408.7L341,408.7Z" fill="#76c6c4" stroke="#76c6c4" stroke-width="0.5"/>
<path d="M282.7,420L284.3,415L289.3,412.5L293.5,410.8L299.3,407.5L309.3,410L306,413.3L304.3,418.3L306,425L305.2,430L306,436.7L304.7,441.7L307.7,446.7L309.3,453.3L302.7,452.5L293.5,453.3L286,450.8L278.5,450L274.3,445.8L276,438.3L274.3,433.3L267.7,430L268.5,425L263.5,422.5L266,420L271.8,419.2Z" fill="#76c6c4" stroke="#76c6c4" stroke-width="0.5"/>
<path d="M294.3,417.5L297.7,415.3L301,418.3L299.3,424.2L296.8,425.8L295.2,421.7Z" fill="#2b8abe" stroke="#2b8abe" stroke-width="0.5"/>
<path d="M309.3,410L326.8,408.7L364,408.7L364,415.8L359.3,418L355.2,420.8L351,421.7L346,420.8L340.2,420L336,424.2L334.3,425L329.3,420L324.3,415.8L319.3,413.3L314.3,411.7Z" fill="#76c6c4" stroke="#76c6c4" stroke-width="0.5"/>
<path d="M346.3,409.7L350.7,409.2L351,414.7L347.7,414.2Z" fill="#2b8abe" stroke="#2b8abe" stroke-width="0.5"/>
<path d="M334.3,425L336,424.2L340.2,420L346,420.8L351,421.7L351,430L356,433.3L361,436.7L364,437.5L364,466L307.7,466L309.3,453.3L307.7,446.7L309.3,445.8L314.3,446.7L319.3,451.7L324.3,450.8L331.8,450L337.7,446.7L342.7,444.2L344.3,440L340.2,433.3L336,429.2Z" fill="#76c6c4" stroke="#76c6c4" stroke-width="0.5"/>
<path d="M351,433.3L355.2,432.5L356.8,438.3L361,441.7L364,445.8L364,453.3L360.2,456.7L356.8,451.7L352.7,448.3L350.2,444.2Z" fill="#2b8abe" stroke="#2b8abe" stroke-width="0.5"/>
<path d="M326.8,460L331,457.5L335.7,460L334.3,464.2L328.5,464.2Z" fill="#f0f9e8" stroke="#f0f9e8" stroke-width="0.5"/>
<path d="M236,430L239.3,435L241,444.2L246,443.3L251.8,442.5L247.7,446.7L243.5,451.7L246,456.7L248.5,461.7L252.7,462.5L257.7,458.3L264.3,455L270.2,458.3L271.8,461.7L270.2,466L236,466Z" fill="#2b8abe" stroke="#2b8abe" stroke-width="0.5"/>
<path d="M271.8,454.2L278.5,450L286,450.8L293.5,453.3L293.5,456.7L289.3,466L270.2,466L271.8,461.7L270.2,458.3Z" fill="#76c6c4" stroke="#76c6c4" stroke-width="0.5"/>
<path d="M293.5,453.3L302.7,452.5L309.3,453.3L307.7,466L289.3,466L293.5,456.7Z" fill="#2b8abe" stroke="#2b8abe" stroke-width="0.5"/>
<path d="M158,378L162,377L167,379L166,384L160,384Z" fill="#2b8abe" stroke="#2b8abe" stroke-width="0.5"/>
<path d="M154,211.6L166.6,207.8L176.6,200.8L180.4,194L185.4,199L195.4,203.3L197.9,209L194.9,216.6L197.9,226.6L204.2,229.1L211.7,224.9L221.8,222.8L225.5,219.1L223,212.8L222.5,202.8L216.8,197.8L223.5,193.5L230.6,191L235.6,192.2L236.8,201.5L243.1,202.8L250.6,200.8L254.4,194.7L257.2,195.7L255.7,202.8L251.1,206.5L251.9,216.6L255.7,219.1L258.7,225.4L259.4,235.4L264.4,240.4L268.2,241.7" fill="none" stroke="#ffffff" stroke-width="1.45" stroke-linejoin="round"/>
<path d="M272,267.5L267,272L260.7,278.8L253.1,275.6L245.6,278.8L241.9,283.8L230.6,288.9L228.1,295.1L233.1,297.6L225.5,306.4L223,311.4L224.3,319L215.5,325.2L205.5,331.5L201.7,340.3L203,350.3L197.9,356.6L194.2,362.9L195.4,370.4L200.5,377.9L190.4,385.5L187.9,390" fill="none" stroke="#ffffff" stroke-width="1.45" stroke-linejoin="round"/>
<path d="M184.1,388L182.9,394.3L184.1,395.5L190.4,403.1L197.9,400.5L205.5,399.3L210.5,408.1L215.5,419.4L213,425.6L214.3,433.2L216.8,442L218,453.7L214.3,460.8L210.5,470.8L205.5,485.9" fill="none" stroke="#ffffff" stroke-width="1.45" stroke-linejoin="round"/>
<path d="M216.8,442L225.5,433.2L226.8,442L230.6,438.2L236.8,442L240.6,450.7L246.9,446.2L251.1,442.7" fill="none" stroke="#ffffff" stroke-width="1.45" stroke-linejoin="round"/>
<path d="M281.8,380L281,382L275.2,383L273.5,390L268.5,392.5L261,390L254.3,391.3L248.5,393.3L246.8,398.3L248.5,403.3L247.7,410.8L251.8,415L252.7,421.7L252.7,434.2L251.8,442.5" fill="none" stroke="#ffffff" stroke-width="1.45" stroke-linejoin="round"/>
<path d="M263.5,422.5L266,420L271.8,419.2L278.5,420L280.2,425L285.2,425.8L289.3,427.5L291,433.3L292.7,438.3L295.2,439.2L296.8,444.2L304.3,444.2L306,446.7L307.7,453.3L307.7,466" fill="none" stroke="#ffffff" stroke-width="1.45" stroke-linejoin="round"/>
<path d="M315.9,482.1L322.2,488.4L323.9,498.4L322.2,507.2" fill="none" stroke="#ffffff" stroke-width="1.45" stroke-linejoin="round"/>
<path d="M347.3,71.5L341,81.6L340.3,89.1L347.3,96.6L348.5,100.4L344.8,106.6L335.2,114.2L333.5,120.5L342.3,124.2L352.3,128L354.8,130" fill="none" stroke="#ffffff" stroke-width="1.45" stroke-linejoin="round"/>
<path d="M289.6,101.6L299.6,97.4L304.6,93.4L310.9,91.6L312.2,97.9L309.6,104.1L313.4,110.4L316.7,115.4L313.4,118.4L307.1,115.4L298.3,115.9L293.3,112.9L291.6,106.6L289.6,101.6" fill="none" stroke="#ffffff" stroke-width="1.45" stroke-linejoin="round"/>
<path d="M272,82.8L279.5,95.4L287.1,102.9L289.6,101.6" fill="none" stroke="#ffffff" stroke-width="1.45" stroke-linejoin="round"/>
<path d="M316.7,115.4L322.2,118.4L332.2,120.5L333.5,120.5" fill="none" stroke="#ffffff" stroke-width="1.45" stroke-linejoin="round"/>
<path d="M208,329L215.5,325.7L223.1,320.2L224.3,310.2L226.8,306.4L234.3,297.6L228.1,293.9L230.6,290.1L241.9,283.8L245.6,278.8L253.2,275.6L259.4,282.1" fill="none" stroke="#ffffff" stroke-width="1.45" stroke-linejoin="round"/>
<path d="M127.7,271L131,267.7L136,269.3L137.7,274.3L136,277.7L136.8,283.5L131.8,286L128.5,282.7L127.7,276L127.7,271" fill="none" stroke="#ffffff" stroke-width="0.55" stroke-linejoin="round"/>
<path d="M136,277.7L141.8,276L144.3,272.7L149.3,274.3L151.8,279.3L151,283.5L144.3,285.2L136.8,283.5" fill="none" stroke="#ffffff" stroke-width="0.55" stroke-linejoin="round"/>
<path d="M151.8,279.3L152.7,273.5L160.2,272.7L163.5,276L160.2,281L153.5,283.5" fill="none" stroke="#ffffff" stroke-width="0.55" stroke-linejoin="round"/>
<path d="M163.5,276L165.2,267.7L169.3,266L176,266.8L178.5,272.7L176,281L171.8,283.5" fill="none" stroke="#ffffff" stroke-width="0.55" stroke-linejoin="round"/>
<path d="M121,281L126.8,282.7L128.5,282.7" fill="none" stroke="#ffffff" stroke-width="0.55" stroke-linejoin="round"/>
<path d="M131.8,286L130.2,291L131.8,296L136,300.2L139.3,306L141,309.3" fill="none" stroke="#ffffff" stroke-width="0.55" stroke-linejoin="round"/>
<path d="M119.3,288.5L124.3,287.7L130.2,291" fill="none" stroke="#ffffff" stroke-width="0.55" stroke-linejoin="round"/>
<path d="M116,295.2L118.5,299.3L116.8,306" fill="none" stroke="#ffffff" stroke-width="0.55" stroke-linejoin="round"/>
<path d="M116.8,306L122.7,311L129.3,311.8L133.5,309.3L139.3,306" fill="none" stroke="#ffffff" stroke-width="0.55" stroke-linejoin="round"/>
<path d="M133.5,309.3L136,316L135.2,321.8L140.2,327.7L146,328.5L150.2,326L151,321L147.7,314.3L146.8,313.5" fill="none" stroke="#ffffff" stroke-width="0.55" stroke-linejoin="round"/>
<path d="M140.2,327.7L141,331.8L137.3,334.3" fill="none" stroke="#ffffff" stroke-width="0.55" stroke-linejoin="round"/>
<path d="M150.2,326L154.3,324.3L160.2,321L164.3,321" fill="none" stroke="#ffffff" stroke-width="0.55" stroke-linejoin="round"/>
<path d="M151,321L156,317.7L157.7,314.3" fill="none" stroke="#ffffff" stroke-width="0.55" stroke-linejoin="round"/>
<path d="M144.3,285.2L142.7,290.2L146,296L147.7,297.7" fill="none" stroke="#ffffff" stroke-width="0.55" stroke-linejoin="round"/>
<path d="M151,283.5L149.3,289.3L153.5,291.8L159.3,289.3L160.2,296L161.8,296" fill="none" stroke="#ffffff" stroke-width="0.55" stroke-linejoin="round"/>
<path d="M153.5,283.5L159.3,289.3" fill="none" stroke="#ffffff" stroke-width="0.55" stroke-linejoin="round"/>
<path d="M145.2,336.8L146.8,334.3L151,334.3L153.5,337.7L151.8,342L146,342L145.2,336.8" fill="none" stroke="#ffffff" stroke-width="0.55" stroke-linejoin="round"/>
<path d="M400,54L402.5,62.7L410,61.5L412.5,54L415.1,45.2" fill="none" stroke="#ffffff" stroke-width="0.55" stroke-linejoin="round"/>
<path d="M415.1,45.2L420.1,57.7L430.1,62.7L441.4,67.8L448.9,65.7L461.5,60.2L464,54L462.7,47.7L455.7,42.7" fill="none" stroke="#ffffff" stroke-width="0.55" stroke-linejoin="round"/>
<path d="M441.4,67.8L437.6,80.3L432.6,87.8L431.4,96.6L423.8,94.1L420.1,102.9L416.3,104.1L410,97.9L400,87.8" fill="none" stroke="#ffffff" stroke-width="0.55" stroke-linejoin="round"/>
<path d="M416.3,104.1L418.8,111.7L416.3,120.5L418.8,130" fill="none" stroke="#ffffff" stroke-width="0.55" stroke-linejoin="round"/>
<path d="M448.9,65.7L457.7,71.5L460.2,79L466.5,80.3L475.3,86.6L486.6,90.3L489.1,92.8L485.3,100.4L486.6,107.9" fill="none" stroke="#ffffff" stroke-width="0.55" stroke-linejoin="round"/>
<path d="M374.9,72.8L382.4,70.3L388.7,75.3L389.9,84.1L382.4,87.8L376.1,89.1L374.9,96.6L368.6,99.1L367.4,102.9L359.8,104.1L352.3,100.4L348.5,100.4" fill="none" stroke="#ffffff" stroke-width="0.55" stroke-linejoin="round"/>
<path d="M389.9,84.1L402.5,95.4L412.5,101.6L416.3,103.4L417,112.9L415,123L416.3,130" fill="none" stroke="#ffffff" stroke-width="0.55" stroke-linejoin="round"/>
<path d="M216.2,329.2L219.5,339.2L225.3,344.2L230.3,343.3L238.7,342.5L243.7,341.7" fill="none" stroke="#ffffff" stroke-width="0.55" stroke-linejoin="round"/>
<path d="M225.3,344.2L223.7,350L227.8,355L227,360L223.7,365L220.3,366.7" fill="none" stroke="#ffffff" stroke-width="0.55" stroke-linejoin="round"/>
<path d="M227.8,360L237,360.8L242,364.2L247.8,363.3L253.7,361.7" fill="none" stroke="#ffffff" stroke-width="0.55" stroke-linejoin="round"/>
<path d="M203.7,351.7L210.3,356.7L215.3,362.5L220.3,366.7L225.3,371.7L229.5,378.3L233.7,383.3L235.3,386" fill="none" stroke="#ffffff" stroke-width="0.55" stroke-linejoin="round"/>
<path d="M220.3,366.7L213.7,370L211.2,373.3L213.7,380L215.3,386" fill="none" stroke="#ffffff" stroke-width="0.55" stroke-linejoin="round"/>
<path d="M211.2,373.3L205.3,377.5L200.3,376.7" fill="none" stroke="#ffffff" stroke-width="0.55" stroke-linejoin="round"/>
<path d="M237,386L238.7,380L245.3,378.3L250.3,381.7L258.7,378.3L262.8,371.7L262.8,365" fill="none" stroke="#ffffff" stroke-width="0.55" stroke-linejoin="round"/>
<path d="M272,366.7L278.7,370L285.3,373.3L287,378.3L280.3,381.7L274.5,386" fill="none" stroke="#ffffff" stroke-width="0.55" stroke-linejoin="round"/>
<path d="M218.7,461.2L227,464.5L235.3,467.8L238.7,471.2L245.3,465.3L248.7,462" fill="none" stroke="#ffffff" stroke-width="0.55" stroke-linejoin="round"/>
<path d="M238.7,471.2L239.5,478.7L243.7,482L252,480.3L258.7,482L265.3,481.2L272,479.5L273.7,476.2" fill="none" stroke="#ffffff" stroke-width="0.55" stroke-linejoin="round"/>
<path d="M207.8,483.7L212.8,477.8L219.5,480.3L222,487" fill="none" stroke="#ffffff" stroke-width="0.55" stroke-linejoin="round"/>
<path d="M222,487L230.3,485.3L236.2,482L239.5,478.7" fill="none" stroke="#ffffff" stroke-width="0.55" stroke-linejoin="round"/>
<path d="M265.3,481.2L263.7,488.7L262,494.5L259.5,498.7L262,503.7L268.7,505.3L275.3,506.2" fill="none" stroke="#ffffff" stroke-width="0.55" stroke-linejoin="round"/>
<path d="M272,479.5L278.7,482L282.8,488.7L287,493.7L286.2,500.3L280.3,503.7L275.3,506.2" fill="none" stroke="#ffffff" stroke-width="0.55" stroke-linejoin="round"/>
<path d="M282.8,488.7L292,492L300,487.8" fill="none" stroke="#ffffff" stroke-width="0.55" stroke-linejoin="round"/>
<path d="M243.7,482L242,488.7L247,493.7L248.7,502L250.3,505.3L257,510.3L259.5,498.7" fill="none" stroke="#ffffff" stroke-width="0.55" stroke-linejoin="round"/>
<path d="M248.7,502L243.7,498.7L238.7,497.8" fill="none" stroke="#ffffff" stroke-width="0.55" stroke-linejoin="round"/>
<path d="M249.5,469.5L253.7,467.8L260.3,472.8L262,476.2L255.3,477L252.8,472.8L249.5,469.5" fill="none" stroke="#ffffff" stroke-width="0.55" stroke-linejoin="round"/>
<path d="M197.8,502L201.2,498.7L207,501.2L207.8,507L203.7,510.3L198.7,507L197.8,502" fill="none" stroke="#ffffff" stroke-width="0.55" stroke-linejoin="round"/>
<path d="M223.7,447.8L229.5,447L235.3,449.5L233.7,454.5L227,454.5L223.7,447.8" fill="none" stroke="#ffffff" stroke-width="0.55" stroke-linejoin="round"/>
<path d="M188.7,507L197,512L205.3,515.3L213.7,513.7" fill="none" stroke="#ffffff" stroke-width="0.55" stroke-linejoin="round"/>
<path d="M364.9,442L369.9,450.7L366.1,459.5L372.4,463.3L373.6,474.6L368.6,483.4L358.6,490.9L352.3,498.4" fill="none" stroke="#ffffff" stroke-width="0.55" stroke-linejoin="round"/>
<path d="M372.4,463.3L386.2,452L388.7,452" fill="none" stroke="#ffffff" stroke-width="0.55" stroke-linejoin="round"/>
<path d="M373.6,474.6L386.2,480.8L390,484.6L396.2,470.8L407.5,463.3" fill="none" stroke="#ffffff" stroke-width="0.55" stroke-linejoin="round"/>
<path d="M390,484.6L395,493.4L393.7,505.9L396.2,518" fill="none" stroke="#ffffff" stroke-width="0.55" stroke-linejoin="round"/>
<path d="M396.2,470.8L407.5,468.3L418.8,467L427.6,473.3L436.4,479.6" fill="none" stroke="#ffffff" stroke-width="0.55" stroke-linejoin="round"/>
<path d="M427.6,473.3L431.4,460.8L436.4,455.8L438.9,445.7L442.6,439.4" fill="none" stroke="#ffffff" stroke-width="0.55" stroke-linejoin="round"/>
<path d="M390,484.6L401.2,483.4L411.3,488.4L416.3,504.7" fill="none" stroke="#ffffff" stroke-width="0.55" stroke-linejoin="round"/>
<path d="M336,475.8L348.5,470.8L358.6,458.3" fill="none" stroke="#ffffff" stroke-width="0.55" stroke-linejoin="round"/>
<path d="M348.5,470.8L359.8,482.1L368.6,483.4" fill="none" stroke="#ffffff" stroke-width="0.55" stroke-linejoin="round"/>
<path d="M250,81.5L255,79L263.3,78.7L268.3,79.8L271.7,84L276.7,92.3L281.7,99L288.3,104.8L290.8,104" fill="none" stroke="#ffffff" stroke-width="1.45" stroke-linejoin="round"/>
<path d="M220,227.8L225,225.3L230.8,227.8L232.5,233.7L230.8,239.5L224.2,240.3L219.2,237L220,227.8" fill="none" stroke="#ffffff" stroke-width="0.55" stroke-linejoin="round"/>
<path d="M230.8,227.8L238.3,225.3L246.7,223.7L250,220.3" fill="none" stroke="#ffffff" stroke-width="0.55" stroke-linejoin="round"/>
<path d="M232.5,233.7L235,242.8L239.2,250.3L245,251.2L248.3,247.8" fill="none" stroke="#ffffff" stroke-width="0.55" stroke-linejoin="round"/>
<path d="M220,256.2L226.7,247.8L235,246.2L239.2,250.3" fill="none" stroke="#ffffff" stroke-width="0.55" stroke-linejoin="round"/>
<path d="M221.7,222L226.7,220.3L233.3,217L240,220.3L246.7,219.5L250,215.3" fill="none" stroke="#ffffff" stroke-width="0.55" stroke-linejoin="round"/>
<path d="M275,213.7L280,222L285,225.3L290,220.3L295,215.3L299.2,213.7" fill="none" stroke="#ffffff" stroke-width="0.55" stroke-linejoin="round"/>
<path d="M285,225.3L283.3,232L286.7,237" fill="none" stroke="#ffffff" stroke-width="0.55" stroke-linejoin="round"/></g>
<rect x="299.5" y="129.5" width="468.5" height="279.1" fill="#ffffff"/>
<g clip-path="url(#pc)"><path d="M237.6,0L243.1,12.5L246.9,19.6L253.1,25.6L251.1,32.1L240.6,35.6L235.6,40.2L243.1,45.2L246.9,56.5L246.1,65.7L248.6,75.3L240.6,78.3L233.6,79.8L230.6,86.6L228.1,96.6L228.6,110.4L225.5,104.1L220.5,100.4L216.8,101.6L218,106.6L216.8,114.2L211.7,115.9L208,111.7L210.5,108.4L209.2,102.9L205.5,95.4L197.9,90.8L185.4,92.3L167.8,94.9L159.8,99.1L155.3,105.4L154.5,117.9L157.8,123L162.8,123.5L163.3,130L162.8,140L162.3,147.6L158.3,155.1L154,167.6L152.3,178.9L140.2,177.7L135.7,180.2L134.7,189L140.2,192.7L150.3,194L151.5,202.8L154,211.6L146.5,215.3L140.2,221.6L132.7,226.6L138.2,231.6L134,237.9L116.4,242.4L110.1,241.7L103.8,238.4L105.1,243.4L95.1,244.2L93.8,247.9L97.6,253L96.3,260L100.1,260L101.3,265L105.1,275.1L98.8,285.1L97.6,292.6L95.1,300.2L86.3,306.4L87.5,312.7L93.8,317.7L91.3,326.5L91.3,332.8L100.1,340.3L102.6,346.6L100.1,352.8L105.1,355.4L110.1,359.1L108.9,366.6L98.8,375.4L95.1,383L96.3,390L93.8,388L95.1,395.5L100.1,403.1L106.3,409.3L112.6,411.8L109.6,420.6L105.1,429.4L103.8,435.7L110.1,442L113.9,448.2L120.2,460.8L123.9,465.8L134,467.8L139,470.8L145.2,468.3L155.3,470.8L157.8,463.3L165.3,473.3L180.4,479.6L190.4,480.8L196.7,484.6L205.5,485.9L200.5,493.4L190.4,503.4L185.4,511L180.4,518L510.4,518L510.4,503.4L506.6,495.9L499.1,488.4L489.1,484.6L486.6,478.3L479,473.3L469,472.1L472.8,468.3L466.5,460.8L461.5,455.3L453.9,454.5L446.4,447L443.9,440.7L438.9,430.7L436.9,420.6L436.4,408.6L418.8,401.8L418.8,390L425.1,385.5L423.8,383L426.3,375.4L432.6,367.9L441.4,362.4L496.6,340.3L506.7,335.4L514.2,330.4L524.2,325.4L539.3,325.4L554.3,321.8L558.1,310.3L561.9,300.3L564.4,290.2L560.6,280.2L558.1,273.9L549.3,270.2L545.6,265.1L546.8,257.6L541.8,252.6L544.3,245.1L544.3,245.4L540.5,235.4L536.8,226.6L541.8,227.9L545,225.4L543,217.8L540.5,207.8L534.3,202.8L530.5,196.5L535.5,190.2L536.8,184L533,177.7L525.5,170.2L517.9,163.9L510.4,156.3L510.4,151.3L516.7,145.1L519.2,137.5L520.5,130L523,130L521.7,117.9L519.2,110.4L515.9,100.4L514.2,90.3L512.9,80.8L500.4,79.8L494.1,76.5L500.4,75.3L508.4,72.8L509.2,69L500.4,62.7L492.8,56.5L488.3,51.4L486.6,54L481.6,52.2L472.8,54L467.8,47.7L469,43.9L475.3,40.2L481.6,41.4L484.1,37.6L480.3,33.9L475.3,30.1L479.8,23.8L480.3,18.8L476.5,18.1L471.5,21.3L466.5,17.6L468.3,13.8L467.3,9.5L460.2,12L454,17.1L452.7,21.3L455.2,26.3L452.7,31.4L448.9,28.9L440.2,32.1L432.6,31.4L424.6,28.1L420.1,35.1L415.1,43.9L408.8,50.2L401.3,53.2L392.5,55.2L382.4,57.7L374.4,71.5L372.4,67.8L371.1,70.3L365.4,74L363.6,70.3L354.8,68.3L347.3,71.5L347.3,70.3L341,67.8L340.3,62.7L347.3,56.5L354.8,50.2L355.3,41.4L358.6,37.6L354.8,37.6L347.3,40.2L338.5,45.2L332.2,37.6L322.2,33.9L312.2,32.6L311.6,29.6L304.1,30.1L304.1,15.6L302.1,7.5L297.1,0Z" fill="#f9fcf6"/>
<path d="M137.2,98.4L142.7,96.4L144.2,97.9L139.2,100.4Z" fill="#cfe7e7" stroke="#cfe7e7" stroke-width="0.5"/>
<path d="M163.3,130L163.3,123.5L170.3,120.5L177.9,121.7L187.9,119.9L196.7,120.5L194.2,126.7L191.7,130Z" fill="#cfe7e7" stroke="#cfe7e7" stroke-width="0.5"/>
<path d="M230.6,86.6L233.6,79.8L239.3,77.8L246.9,80.8L253.7,81.6L255.7,79L272,79.8L272,130L253.1,130L252.6,123L245.6,119.2L240.6,119.9L238.1,125.5L230.6,126.7L228.6,117.9L228.1,100.4Z" fill="#cfe7e7" stroke="#cfe7e7" stroke-width="0.5"/>
<path d="M269.5,57.2L272,57.2L272,62.7L269.5,62.7Z" fill="#cfe7e7" stroke="#cfe7e7" stroke-width="0.5"/>
<path d="M273.3,0L278.3,0L278.3,3L274.5,4.5L272.8,2.5Z" fill="#cfe7e7" stroke="#cfe7e7" stroke-width="0.5"/>
<path d="M304.1,15.6L297.1,22.6L289.6,25.1L282,32.6L281.5,38.9L274.5,42.7L275,54L272,55.7L272,61.5L282,60.2L292.1,65.7L299.6,65.7L301.6,58.2L307.1,56.5L306.6,47.7L305.1,40.2L310.9,33.9L311.6,29.6L304.1,30.1Z" fill="#cfe7e7" stroke="#cfe7e7" stroke-width="0.5"/>
<path d="M305.9,35.1L311.6,33.9L312.2,46.4L308.4,47.7L305.9,42.7Z" fill="#c2d2e6" stroke="#c2d2e6" stroke-width="0.5"/>
<path d="M354.8,37.6L347.3,40.2L338.5,45.2L337.2,51.4L328.5,52.7L327.7,61.5L330.2,65.7L329.2,75.3L334.7,76.5L344.8,72.8L347.3,70.3L341,67.8L340.3,62.7L347.3,56.5L354.8,50.2L355.3,41.4L358.6,37.6Z" fill="#cfe7e7" stroke="#cfe7e7" stroke-width="0.5"/>
<path d="M352.3,28.9L356.1,25.1L361.8,25.1L365.4,30.1L366.1,34.6L361.1,33.9L357.3,32.1L352.3,32.1Z" fill="#cfe7e7" stroke="#cfe7e7" stroke-width="0.5"/>
<path d="M295.8,67.8L302.1,65.7L312.2,62.2L326,62.7L329.2,65.7L324.7,69L328.5,75.3L326,78.3L317.2,82.8L309.6,86.6L304.1,90.3L298.3,86.6L292.1,80.3L290.8,74Z" fill="#c2d2e6" stroke="#c2d2e6" stroke-width="0.5"/>
<path d="M285.8,79L290.8,80.3L297.1,86.6L300.9,90.3L299.1,96.6L290.8,100.4L287.1,102.9L279.5,95.4L279,92.8L284.5,90.3Z" fill="#c2d2e6" stroke="#c2d2e6" stroke-width="0.5"/>
<path d="M289.6,101.6L299.6,97.4L304.6,93.4L310.9,91.6L312.2,97.9L309.6,104.1L313.4,110.4L316.7,115.4L313.4,118.4L307.1,115.4L298.3,115.9L293.3,112.9L291.6,106.6Z" fill="#c2d2e6" stroke="#c2d2e6" stroke-width="0.5"/>
<path d="M304.6,90.3L317.2,83.3L326,79L331,76.5L332.2,85.3L338.5,86.6L344.8,93.4L347.3,99.1L343.5,105.4L334.7,111.7L332.2,119.9L322.2,117.9L316.7,115.4L313.4,110.4L310.1,104.1L312.2,97.9L310.9,91.6Z" fill="#cfe7e7" stroke="#cfe7e7" stroke-width="0.5"/>
<path d="M331,79.8L343.5,71.5L346,72.8L343.5,77.3L338.5,80.3L337.7,86.6L332.2,85.3Z" fill="#c2d2e6" stroke="#c2d2e6" stroke-width="0.5"/>
<path d="M272,82.8L279.5,95.4L287.1,102.9L291.6,107.9L293.3,113.4L298.3,116.7L307.1,115.9L314.2,119.2L322.2,118.4L332.2,120.5L342.3,124.7L352.3,128.5L352.3,130L272,130Z" fill="#cfe7e7" stroke="#cfe7e7" stroke-width="0.5"/>
<path d="M341,81.6L347.3,71.5L354.8,68.3L363.6,70.3L365.4,74L371.1,70.3L372.4,67.8L374.4,71.5L382.4,57.7L392.5,55.2L401.3,53.2L408.8,50.2L415.1,43.9L420.1,35.1L424.6,28.1L432.6,31.4L440.2,32.1L448.9,28.9L452.7,31.4L455.2,26.3L452.7,21.3L454,17.1L460.2,12L467.3,9.5L468.3,13.8L466.5,17.6L471.5,21.3L476.5,18.1L480.3,18.8L479.8,23.8L475.3,30.1L480.3,33.9L484.1,37.6L481.6,41.4L475.3,40.2L469,43.9L467.8,47.7L472.8,54L481.6,52.2L486.6,54L488.3,51.4L492.8,56.5L500.4,62.7L509.2,69L508.4,72.8L500.4,75.3L494.1,76.5L500.4,79.8L512.9,80.8L514.2,90.3L515.9,100.4L519.2,110.4L521.7,117.9L515.4,120.5L511.7,125L507.9,123L500.4,112.9L493.4,106.6L489.1,109.2L484.1,112.9L479,117.9L475.3,124.2L465.2,128L461.5,130L418.8,130L417.6,124.2L410,121.7L402.5,123L400,130L354.8,130L352.3,128L342.3,124.2L333.5,120.5L335.3,114.2L344.8,106.6L348.6,100.4L347.3,96.6L340.3,89.1Z" fill="#c2d2e6" stroke="#c2d2e6" stroke-width="0.5"/>
<path d="M418.1,42.7L424.6,35.6L432.1,33.9L439.6,35.6L448.2,31.6L451.4,33.1L442.7,37.6L435.1,37.6L426.3,41.4L421.3,44.7Z" fill="#ffffff" stroke="#ffffff" stroke-width="0.5"/>
<path d="M487.8,59L491.6,62.7L496.6,65.7L498.4,71.5L494.1,74.8L492.3,70.8L494.1,67.8L489.1,64.7L486.6,61.5Z" fill="#ffffff" stroke="#ffffff" stroke-width="0.5"/>
<path d="M462.7,18.8L465.7,17.1L469,23.8L472.8,27.6L471.5,31.4L467.8,26.3L464,23.8Z" fill="#ffffff" stroke="#ffffff" stroke-width="0.5"/>
<path d="M163.3,130L191.7,130L187.9,135L182.9,141.3L179.1,143.8L170.3,140L162.8,139.5Z" fill="#cfe7e7" stroke="#cfe7e7" stroke-width="0.5"/>
<path d="M162.8,140L170.3,140.5L179.1,144.6L182.9,146.3L188.4,153.8L190.4,157.1L185.4,161.4L186.6,167.6L182.9,171.4L184.9,176.4L181.6,180.2L180.4,192.7L176.6,200.3L166.6,207.8L162.8,202.8L160.8,195.2L162.8,190.2L159.8,184L152.3,178.9L154,167.6L158.3,155.1L162.3,147.6Z" fill="#c2d2e6" stroke="#c2d2e6" stroke-width="0.5"/>
<path d="M183.4,141.3L184.9,135.5L194.2,137.5L203,143.8L206.7,150.1L208,157.6L212.5,163.9L208,168.9L203,171.4L200.5,176.4L194.2,174.7L188.4,176.4L184.1,175.2L183.4,171.4L187.2,167.6L185.9,162.1L190.9,157.1L188.4,152.6L183.4,146.3Z" fill="#c2d2e6" stroke="#c2d2e6" stroke-width="0.5"/>
<path d="M184.9,177.2L194.2,175.2L200.5,177.7L203,187.7L201.7,195.7L205.5,197.3L211.7,194L215.5,197.8L221.8,205.3L223,216.6L225.5,219.8L220.5,223.4L210.5,225.4L203,229.1L197.4,227.4L194.2,216.6L197.4,209.8L195.9,204L187.9,201.5L181.6,194.7L181.6,181.4Z" fill="#c2d2e6" stroke="#c2d2e6" stroke-width="0.5"/>
<path d="M154,214.1L166.6,209L176.6,202.3L180.4,195.7L185.4,200.3L194.2,204L196.7,209.8L193.4,216.6L195.9,225.4L187.9,224.9L180.4,229.1L175.4,231.6L167.8,229.1L160.3,222.8L155.3,217.8Z" fill="#c2d2e6" stroke="#c2d2e6" stroke-width="0.5"/>
<path d="M216.8,197.8L223.5,194L230.6,191.5L235.6,192.7L236.8,201.5L243.1,202.8L250.6,200.8L254.4,195.2L257.2,195.7L255.7,202.8L251.1,206.5L251.9,216.6L255.7,219.1L258.7,225.4L259.4,235.4L264.4,240.4L260.7,244.2L255.7,245.4L249.4,249.2L248.1,260L220.5,260L216.8,255.5L210.5,247.9L208,237.9L204.2,229.9L211.7,225.4L221.8,223.4L226,219.8L223.5,212.8L222.5,202.8Z" fill="#c2d2e6" stroke="#c2d2e6" stroke-width="0.5"/>
<path d="M260.7,219.1L267,216.6L272,217.8L272,240.4L268.2,241.7L264.4,239.9L260.2,234.9L259.4,225.4Z" fill="#c2d2e6" stroke="#c2d2e6" stroke-width="0.5"/>
<path d="M265.7,190.2L269.5,184L272,183.2L272,199L268.2,197.8L265.2,194.7Z" fill="#c2d2e6" stroke="#c2d2e6" stroke-width="0.5"/>
<path d="M212.5,163.9L216.8,161.4L224.3,167.6L225.5,166.4L233.1,160.1L236.8,152.6L240.6,148.8L246.9,150.1L250.6,158.9L255.7,162.1L253.1,171.4L254.4,177.7L246.9,184L245.6,189L235.6,191.5L230.6,191L223.5,193.5L216.8,197.3L215.5,194L217.3,184L210.5,187.7L211.7,194L205.5,196.8L202.2,195.2L203.5,187.7L201.7,178.9L203.5,171.9L208.5,169.4Z" fill="#cfe7e7" stroke="#cfe7e7" stroke-width="0.5"/>
<path d="M253.1,130L272,130L272,148.8L265.7,147.6L260.7,142.5L255.7,137.5Z" fill="#cfe7e7" stroke="#cfe7e7" stroke-width="0.5"/>
<path d="M269.5,165.1L272,165.1L272,173.9L269.5,173.9Z" fill="#cfe7e7" stroke="#cfe7e7" stroke-width="0.5"/>
<path d="M210.5,136.3L216.8,135L217.5,140.5L211.7,142Z" fill="#cfe7e7" stroke="#cfe7e7" stroke-width="0.5"/>
<path d="M233.6,137L240.6,137.5L246.9,141.3L250.6,145.1L248.6,149.6L243.1,148.8L239.3,147.1L235.6,142.5Z" fill="#c2d2e6" stroke="#c2d2e6" stroke-width="0.5"/>
<path d="M103.8,238.4L110.1,241.7L116.4,242.9L120.2,245.9L121.4,247.9L112.6,260L96.3,260L97.6,253L93.8,247.9L95.1,244.2L105.1,243.4Z" fill="#cfe7e7" stroke="#cfe7e7" stroke-width="0.5"/>
<path d="M112.6,260L120.2,249.2L130.2,246.7L141.5,252.5L145.7,249.2L152.8,247.9L159,251.7L162.8,260Z" fill="#c2d2e6" stroke="#c2d2e6" stroke-width="0.5"/>
<path d="M132.7,226.6L146.5,215.3L152.8,212.8L155.3,218.3L160.8,223.4L159.8,229.1L152.8,229.9L150.3,234.1L151.5,240.4L147.8,245.4L140.2,247.9L130.2,245.9L120.2,245.9L116.4,242.4L134,237.9L138.2,231.6Z" fill="#cfe7e7" stroke="#cfe7e7" stroke-width="0.5"/>
<path d="M176.6,230.4L181.6,228.4L185.4,232.9L184.1,240.4L179.1,245.4L174.9,241.7L174.1,235.4Z" fill="#c2d2e6" stroke="#c2d2e6" stroke-width="0.5"/>
<path d="M185.4,232.9L188.4,225.4L196.7,227.9L203,229.9L207.5,237.9L210,247.9L216.8,255.5L220,260L184.1,260L182.9,253L179.1,245.9L184.1,240.4Z" fill="#cfe7e7" stroke="#cfe7e7" stroke-width="0.5"/>
<path d="M254.4,130L299.6,130L299.6,186.5L288.3,182.7L280.8,178.9L274.5,175.2L269.5,171.4L270.2,165.1L275.3,157.6L273.7,151.3L268.2,152.6L262,147.6L262,140L256.9,138.8Z" fill="#cfe7e7" stroke="#cfe7e7" stroke-width="0.5"/>
<path d="M264.5,191.5L273.2,185.7L280.8,180.2L285.8,184L299.6,187.2L299.6,242.9L290.8,240.4L283.3,229.1L279.5,232.9L273.2,235.4L267,240.4L260.7,232.9L259.4,222.8L264.5,220.3L273.7,214.1L272,205.3L269.5,200.3L265.2,197.3Z" fill="#c2d2e6" stroke="#c2d2e6" stroke-width="0.5"/>
<path d="M216.8,197.8L223.6,194L230.6,191.5L235.6,192.7L236.9,201.5L243.1,202.8L250.7,200.8L254.4,195.2L257.2,195.7L255.7,202.8L251.2,206.5L251.9,216.6L249.4,218.3L243.1,220.3L245.6,225.4L254.4,222.8L259.4,226.6L260.7,235.4L264.5,240.4L260.7,244.2L255.7,245.4L249.4,249.2L248.2,260L220.5,260L216.8,255.5L210.5,247.9L208,237.9L208,197.8Z" fill="#c2d2e6" stroke="#c2d2e6" stroke-width="0.5"/>
<path d="M248.2,260L249.4,249.2L255.7,245.4L260.7,244.2L267,247.9L270.7,253L270.2,260Z" fill="#cfe7e7" stroke="#cfe7e7" stroke-width="0.5"/>
<path d="M100.1,260L111.4,260L117.6,267.5L120.2,275.1L118.9,285.1L115.1,292.6L109.6,297.6L112.6,303.9L117.1,306.4L117.6,314L121.4,322.7L127.7,330.3L134,335.3L127.7,337.8L122.7,342.8L117.6,346.6L111.4,342.8L109.6,332.8L106.3,324L102.1,319L93.8,317.7L87.5,312.7L86.3,306.4L95.1,300.2L97.6,292.6L98.8,285.1L105.1,275.1L101.3,265Z" fill="#cfe7e7" stroke="#cfe7e7" stroke-width="0.5"/>
<path d="M91.3,326.5L95.6,321.5L102.1,319L106.3,324.7L105.1,331.5L108.9,335.3L107.6,342.8L110.1,346.6L106.3,354.1L100.6,353.4L102.6,346.6L100.1,340.3L91.3,333.3Z" fill="#c2d2e6" stroke="#c2d2e6" stroke-width="0.5"/>
<path d="M111.8,261.8L117.7,256L161.8,256L162.7,260.2L169.3,260.2L170.2,256L182.7,256L182.7,261L188.5,266L189.3,276.8L191.8,281L192.7,289.3L191.8,299.3L186.8,304.3L186.8,309.3L179.3,310.2L181.8,313.5L184.3,321L182.7,326L178.5,331.8L177.7,332.7L169.3,336.8L162.7,341L154,344L146.5,346.5L139,349L137.2,340.3L136.8,337.7L134.3,334.3L127.7,335.2L122.7,334.3L121,327.7L117.7,319.3L116,311L116.8,306L113.5,304.3L109.3,300.2L110.2,296L116,295.2L117.7,293.5L119.3,288.5L121,281L119.3,276L120.2,270.2L116.8,266Z" fill="#c2d2e6" stroke="#c2d2e6" stroke-width="0.5"/>
<path d="M161.8,296L166,297.7L169.3,304.3L174.3,306L179.3,310.2L181.8,313.5L184.3,321L182.7,326L178.5,331.8L174.3,329.3L171,326L164.3,321L161,317.7L157.7,314.3L162.7,311L161.8,304.3L160.2,299.3Z" fill="#cfe7e7" stroke="#cfe7e7" stroke-width="0.5"/>
<path d="M138.5,264.3L141.8,261.3L145.2,262.7L146,269.3L143.5,272.7L140.2,271Z" fill="#f9fcf6" stroke="#f9fcf6" stroke-width="0.5"/>
<path d="M152.7,270.2L156.8,268L161.8,269.3L161,272.3L153.5,272.7Z" fill="#cfe7e7" stroke="#cfe7e7" stroke-width="0.5"/>
<path d="M165.2,286.8L167.7,282.7L171.8,283.5L175.2,287.7L174.3,291.8L171,294.3L166.8,291.8Z" fill="#cfe7e7" stroke="#cfe7e7" stroke-width="0.5"/>
<path d="M142.7,301.8L147.7,297.7L151,299.3L151.8,304.3L146,305.2Z" fill="#cfe7e7" stroke="#cfe7e7" stroke-width="0.5"/>
<path d="M151.8,299.3L154.3,296.8L159.3,297.7L160.2,301L156.8,303.5L152.7,302.7Z" fill="#f9fcf6" stroke="#f9fcf6" stroke-width="0.5"/>
<path d="M140.7,309.3L145.2,307.7L149,310.2L146.8,313.5L141.8,312.7Z" fill="#cfe7e7" stroke="#cfe7e7" stroke-width="0.5"/>
<path d="M190.4,260L224.3,260L223,266.3L224.3,272.5L230.6,277.6L236.8,280.1L243.1,277.1L248.6,271.3L253.1,278.1L260.7,280.6L255.7,290.1L256.9,297.6L259.4,306.4L250.6,319L255.7,325.7L250.6,332.8L243.1,322.7L230.6,320.2L223,321.5L224.3,310.2L220.5,306.4L213,310.2L208,312.7L210.5,307.7L205.5,300.2L199.2,296.4L192.9,300.2L191.7,287.6L189.2,277.6Z" fill="#cfe7e7" stroke="#cfe7e7" stroke-width="0.5"/>
<path d="M256.9,297.6L265.7,300.2L272,305.2L272,335.3L267,334L255.7,325.7L250.6,319L259.4,306.4Z" fill="#cfe7e7" stroke="#cfe7e7" stroke-width="0.5"/>
<path d="M224.3,260L248.1,260L248.6,270L243.1,276.3L236.8,279.6L230.6,277.6L224.3,272.5L223,266.3Z" fill="#c2d2e6" stroke="#c2d2e6" stroke-width="0.5"/>
<path d="M249.4,260L268.2,260L267,270L260.7,280.1L253.1,277.6L248.6,271.3Z" fill="#cfe7e7" stroke="#cfe7e7" stroke-width="0.5"/>
<path d="M268.2,267.5L272,266.3L272,303.9L265.7,300.2L256.9,297.6L255.7,290.1L259.4,283.8L260.7,280.1L267,271.3Z" fill="#f0f0f0" stroke="#f0f0f0" stroke-width="0.5"/>
<path d="M268.7,289.6L272,289.6L272,295.1L268.7,295.1Z" fill="#c2d2e6" stroke="#c2d2e6" stroke-width="0.5"/>
<path d="M189.2,324L194.2,316.5L208,313.2L213,310.2L220.5,306.4L224.3,310.2L223,320.2L215.5,325.7L205.5,331.5L201.7,340.3L197.9,337.8L194.2,329Z" fill="#c2d2e6" stroke="#c2d2e6" stroke-width="0.5"/>
<path d="M205.5,331.5L215.5,325.7L224.3,320.2L243.1,322.7L253.1,326.5L255.7,332.3L245.6,340.3L246.9,345.3L254.4,351.6L251.9,357.9L255.7,361.6L264.4,365.4L268.2,367.9L272,365.4L272,390L190.4,390L190.4,385.5L200.5,377.9L195.4,370.4L194.2,362.9L197.9,356.6L203,350.3L201.7,340.3Z" fill="#c2d2e6" stroke="#c2d2e6" stroke-width="0.5"/>
<path d="M130.2,360.4L139,351.6L146.5,347.8L154,345.3L162.8,340.8L166.6,342.8L167.8,350.3L172.8,346.6L180.4,340.3L190.4,341.6L197.9,339L201.7,341.6L203,350.3L197.9,356.6L194.2,362.9L195.4,370.4L200.5,377.9L190.4,385.5L187.9,390L160.3,390L166.6,383L162.8,377.9L152.8,377.4L145.7,374.2L141.5,369.9L132.7,370.4L130.2,365.4Z" fill="#cfe7e7" stroke="#cfe7e7" stroke-width="0.5"/>
<path d="M141.5,369.2L152.8,364.1L160.3,361.6L166.6,365.4L172.8,361.6L177.4,365.4L176.6,371.7L171.6,375.9L166.6,376.7L160.3,374.2L152.8,376.7L146.5,374.2Z" fill="#c2d2e6" stroke="#c2d2e6" stroke-width="0.5"/>
<path d="M249.4,260L269.5,260L268.2,267.5L264.5,273.8L259.4,281.3L253.2,277.6L248.7,270.5Z" fill="#cfe7e7" stroke="#cfe7e7" stroke-width="0.5"/>
<path d="M235.6,297.6L230.6,290.1L241.9,283.8L245.6,278.8L253.2,276.3L259.4,282.1L255.7,288.1L256.9,297.6L262,302.7L268.2,298.1L275.8,300.7L280.8,304.4L283.3,300.2L288.3,297.6L292.1,285.1L299.6,284.6L299.6,341.6L294.6,342.8L288.3,335.3L282,340.3L274.5,336.5L268.2,331.5L254.4,332.8L245.6,320.2L233.1,317.7L224.3,321.5L223.1,310.2L226.8,306.4L234.3,297.6Z" fill="#cfe7e7" stroke="#cfe7e7" stroke-width="0.5"/>
<path d="M255.7,287.6L259.4,282.6L267,275.1L270.7,267.5L277,266.3L283.3,270L282,277.6L283.3,283.8L279.5,288.9L285.8,292.6L287.8,297.6L283.3,300.2L280.8,303.9L275.8,300.2L268.2,297.6L262,302.7L256.9,297.6Z" fill="#f0f0f0" stroke="#f0f0f0" stroke-width="0.5"/>
<path d="M269.5,290.6L275.8,289.6L277.8,293.9L273.7,296.4L269.5,294.6Z" fill="#c2d2e6" stroke="#c2d2e6" stroke-width="0.5"/>
<path d="M283.3,271.3L288.3,268.8L299.6,268L308.4,260L333.5,260L333.5,267.5L328.5,271.3L318.4,270L308.4,277.6L299.6,283.8L294.6,285.1L288.3,287.6L283.3,283.8L282,277.6Z" fill="#c2d2e6" stroke="#c2d2e6" stroke-width="0.5"/>
<path d="M224.3,260L248.2,260L248.7,270L243.1,275.6L236.9,278.8L230.6,277.1L224.3,272L223.1,265.5Z" fill="#c2d2e6" stroke="#c2d2e6" stroke-width="0.5"/>
<path d="M275.3,350.3L282,349.1L282.8,340.8L288.8,335.8L294.6,343.3L299.6,342.3L303.4,347.3L303.9,356.6L301.4,362.9L299.6,367.9L293.3,368.4L285.8,370.4L279.5,366.6L272.7,359.9Z" fill="#c2d2e6" stroke="#c2d2e6" stroke-width="0.5"/>
<path d="M208,327.8L218,320.2L224.3,322.2L233.1,318.2L245.6,320.7L254.4,332.8L244.4,340.3L246.9,345.8L254.4,351.6L251.9,354.9L254.4,361.6L262,365.4L268.2,369.2L272.7,359.9L279.5,366.6L285.8,370.4L288.3,375.4L285.8,383L278.3,383L273.7,390L208,390Z" fill="#c2d2e6" stroke="#c2d2e6" stroke-width="0.5"/>
<path d="M208,308.9L213,310.2L220.5,306.4L224.3,310.2L223.1,320.2L215.5,325.7L208,329Z" fill="#c2d2e6" stroke="#c2d2e6" stroke-width="0.5"/>
<path d="M288.3,375.9L293.3,369.2L299.6,367.9L299.6,390L273.7,390L278.3,383L285.8,383Z" fill="#cfe7e7" stroke="#cfe7e7" stroke-width="0.5"/>
<path d="M299.6,285.1L304.6,295.1L307.1,301.4L310.9,305.2L308.4,314L304.6,316.5L302.1,324L299.6,327.8Z" fill="#cfe7e7" stroke="#cfe7e7" stroke-width="0.5"/>
<path d="M304.6,347.8L310.9,340.3L322.2,332.8L331,335.3L338.5,340.3L344.8,346.6L342.3,349.8L334.7,348.3L331,352.8L328.5,360.4L324.7,367.4L315.9,362.9L308.4,356.6Z" fill="#cfe7e7" stroke="#cfe7e7" stroke-width="0.5"/>
<path d="M337.2,266.3L347.3,265L347.3,287.6L341,285.1L337.2,277.6Z" fill="#cfe7e7" stroke="#cfe7e7" stroke-width="0.5"/>
<path d="M112.6,411.8L123.9,406.1L130.2,409.3L134.7,411.8L136.5,421.9L141.5,425.6L134,429.4L120.2,433.2L110.1,434.4L105.1,433.7L105.1,429.4L109.6,420.6Z" fill="#cfe7e7" stroke="#cfe7e7" stroke-width="0.5"/>
<path d="M116.4,416.9L121.4,410.6L125.2,411.8L123.2,418.1L118.9,421.9Z" fill="#c2d2e6" stroke="#c2d2e6" stroke-width="0.5"/>
<path d="M103.8,435.7L110.1,434.4L120.2,433.2L134,429.9L141.5,429.4L151.5,434.4L152.8,442L155.3,449.5L159,453.2L157.8,460.8L155.3,470.8L145.2,468.8L139,471.3L134,467.8L123.9,466.3L120.2,461.3L113.9,448.2L110.1,442Z" fill="#f0f0f0" stroke="#f0f0f0" stroke-width="0.5"/>
<path d="M113.9,448.2L123.9,446.2L128.9,442L135.7,442L136.5,445.7L130.2,452L126.4,458.3L121.4,461.3L117.6,454.5Z" fill="#c2d2e6" stroke="#c2d2e6" stroke-width="0.5"/>
<path d="M160.3,448.2L166.6,440.7L175.4,434.4L182.9,436.9L189.2,440.7L190.4,447L185.4,450.7L180.4,456.3L175.4,453.7L167.8,453.2L161.6,452.7Z" fill="#cfe7e7" stroke="#cfe7e7" stroke-width="0.5"/>
<path d="M173.4,444.5L179.1,442L184.1,446.2L180.4,450.7L175.4,449.5Z" fill="#c2d2e6" stroke="#c2d2e6" stroke-width="0.5"/>
<path d="M152.8,405.6L159,398L160.3,388L184.1,388L182.9,394.3L186.6,400.5L190.4,403.1L197.9,400.5L205.5,399.3L210.5,408.1L215.5,419.4L213,425.6L214.3,433.2L216.8,442L218,453.7L214.3,460.8L210.5,470.8L205.5,485.4L197.4,484.6L195.9,479.6L200.5,473.3L205.5,463.3L208,453.2L206.7,447L210.5,442L205.5,431.9L196.7,428.2L190.4,423.1L187.9,419.4L180.4,420.6L175.4,425.6L166.6,423.1L162.8,417.6L162.8,411.8L155.3,408.1Z" fill="#cfe7e7" stroke="#cfe7e7" stroke-width="0.5"/>
<path d="M184.1,395.5L186.6,390.5L191.7,388L272,388L272,518L180.4,518L185.4,511L190.4,503.4L200.5,493.4L205.5,485.9L210.5,470.8L214.3,460.8L218,453.7L216.8,442L214.3,433.2L213,425.6L215.5,419.4L210.5,408.1L205.5,399.3L197.9,400.5L190.4,403.1L186.6,400.5Z" fill="#c2d2e6" stroke="#c2d2e6" stroke-width="0.5"/>
<path d="M236.8,421.9L243.1,417.6L250.6,415.6L253.1,423.1L251.9,435.7L245.6,441.2L240.6,442L238.1,433.2Z" fill="#f9fcf6" stroke="#f9fcf6" stroke-width="0.5"/>
<path d="M248.6,394.3L253.1,391L260.7,391.8L267,390.5L272,391.8L272,434.4L265.7,431.9L259.4,434.4L254.4,435.7L252.6,423.1L250.6,415.1L253.1,410.6L249.4,403.1Z" fill="#cfe7e7" stroke="#cfe7e7" stroke-width="0.5"/>
<path d="M253.7,403.1L260.7,401L265.2,406.8L261.9,410.6L255.7,409.3Z" fill="#f9fcf6" stroke="#f9fcf6" stroke-width="0.5"/>
<path d="M264.4,421.9L272,420.6L272,430.7L267,431.2L263.7,426.9Z" fill="#f9fcf6" stroke="#f9fcf6" stroke-width="0.5"/>
<path d="M244.4,453.7L240.6,450.7L246.9,446.2L251.1,442.7L255.7,439.4L259.4,435.2L265.7,432.7L272,435.2L272,453.7L265.7,455.8L258.2,460.8L253.1,459.5L248.1,455.8Z" fill="#f9fcf6" stroke="#f9fcf6" stroke-width="0.5"/>
<path d="M217.5,493.4L220.5,488.4L228.1,487.1L234.3,482.1L240.6,483.4L243.1,490.9L239.3,498.4L233.1,500.9L226.8,498.4L221.8,499.7Z" fill="#cfe7e7" stroke="#cfe7e7" stroke-width="0.5"/>
<path d="M226.8,492.9L230.6,490.9L234.3,493.9L233.1,497.9L228.1,497.9Z" fill="#c2d2e6" stroke="#c2d2e6" stroke-width="0.5"/>
<path d="M215.5,513.5L219.3,503.4L226.8,499.7L233.1,501.4L238.1,505.9L235.6,513.5L233.1,518L214.3,518Z" fill="#cfe7e7" stroke="#cfe7e7" stroke-width="0.5"/>
<path d="M267,463.3L272,463.3L272,474.6L268.2,473.3Z" fill="#cfe7e7" stroke="#cfe7e7" stroke-width="0.5"/>
<path d="M223.1,388L274.5,388L273.7,391.8L268.2,393L258.2,390.5L249.4,394.3L248.2,400.5L249.4,411.8L244.4,416.9L238.1,420.6L235.6,425.6L237.6,436.9L240.6,442L239.4,448.2L246.9,443.7L250.7,445.7L245.6,450.7L244.4,455.3L250.7,460.8L262,457L270.2,453.7L273.7,458.3L269.5,465.8L267.7,471.3L273.7,474.6L282,473.3L287,465.8L294.6,457L304.6,455.3L307.1,463.3L310.9,472.1L315.9,482.1L322.2,488.4L323.9,498.4L322.2,507.2L313.4,505.9L307.1,504.7L300.8,507.2L295.8,507.9L290.8,504.7L283.3,503.9L274.5,505.9L272.7,513.5L275.8,518L223.1,518Z" fill="#c2d2e6" stroke="#c2d2e6" stroke-width="0.5"/>
<path d="M236.9,421.9L243.1,417.6L250.7,416.1L253.2,423.1L251.9,435.7L245.6,441.2L240.6,442L238.1,433.2Z" fill="#f9fcf6" stroke="#f9fcf6" stroke-width="0.5"/>
<path d="M217.5,493.4L220.5,488.4L228.1,487.1L234.3,482.1L240.6,483.4L243.1,490.9L239.4,498.4L233.1,500.9L226.8,498.4L221.8,499.7Z" fill="#cfe7e7" stroke="#cfe7e7" stroke-width="0.5"/>
<path d="M226.8,492.9L230.6,490.9L234.3,493.9L233.1,497.9L228.1,497.9Z" fill="#c2d2e6" stroke="#c2d2e6" stroke-width="0.5"/>
<path d="M215.5,513.5L219.3,503.4L226.8,499.7L233.1,501.4L238.1,505.9L235.6,513.5L233.1,518L214.3,518Z" fill="#cfe7e7" stroke="#cfe7e7" stroke-width="0.5"/>
<path d="M249.4,394.3L258.2,390.5L268.2,393.5L269.5,403.1L270.7,411.8L265.7,415.6L262,423.1L256.9,429.4L253.2,435.7L253.2,423.1L251.2,416.1L253.7,410.6L249.4,403.1Z" fill="#cfe7e7" stroke="#cfe7e7" stroke-width="0.5"/>
<path d="M288.8,388L299.6,388L322.2,388L323.4,398L318.4,403.1L313.4,408.6L299.6,408.6L299.6,398L293.3,398.5L290.8,393Z" fill="#cfe7e7" stroke="#cfe7e7" stroke-width="0.5"/>
<path d="M309.6,396.8L312.9,395L314.6,398.5L311.4,401Z" fill="#c2d2e6" stroke="#c2d2e6" stroke-width="0.5"/>
<path d="M264.5,423.1L270.7,420.6L280.8,421.1L283.3,416.9L288.3,413.1L294.6,409.3L299.6,408.6L308.4,410.6L304.6,415.6L306.4,423.1L304.6,431.9L305.9,442L308.4,448.2L307.1,455.3L294.6,457L287,465.8L282,473.3L273.7,474.6L267.7,471.3L269.5,465.8L273.7,458.3L278.3,453.7L275.3,448.2L274.5,438.2L275.8,433.2L270.2,430.7L265.2,428.2Z" fill="#cfe7e7" stroke="#cfe7e7" stroke-width="0.5"/>
<path d="M294.6,416.9L298.8,415.6L300.3,420.6L297.1,425.6L294.6,421.9Z" fill="#c2d2e6" stroke="#c2d2e6" stroke-width="0.5"/>
<path d="M308.4,448.2L313.4,446.2L320.9,448.2L331,450.7L338.5,445.7L344.8,442L348.5,438.2L352.3,433.2L358.6,430.7L366.1,438.2L373.6,433.2L381.1,431.9L384.9,438.2L387.4,447L393.7,450.7L400,446.2L400,518L371.1,518L368.6,513.5L358.6,508.5L356.1,500.9L352.3,495.9L343.5,492.1L338.5,488.4L333.5,483.4L327.2,484.6L322.2,488.4L315.9,482.1L310.9,472.1L307.1,463.3Z" fill="#cfe7e7" stroke="#cfe7e7" stroke-width="0.5"/>
<path d="M326.4,459.5L332.2,457.8L337.2,461.3L333.5,464.5L327.9,463.8Z" fill="#f9fcf6" stroke="#f9fcf6" stroke-width="0.5"/>
<path d="M349.8,434.4L356.1,433.2L358.6,440.7L363.6,445.7L362.3,453.2L358.6,455.8L354.8,449.5L349.8,445.2Z" fill="#c2d2e6" stroke="#c2d2e6" stroke-width="0.5"/>
<path d="M371.1,503.4L376.6,503.9L381.1,501.4L381.7,507.2L376.6,509.7Z" fill="#c2d2e6" stroke="#c2d2e6" stroke-width="0.5"/>
<path d="M325.9,413.1L327.2,408.6L366.1,408.6L365.6,401.8L358.6,398L353.5,399.3L347.3,396.8L341,403.1L342.3,408.6L366.1,408.6L363.6,413.1L356.1,418.1L352.3,423.1L356.1,429.4L352.3,433.2L348.5,438.2L344.8,429.4L338.5,423.1L333.5,418.1Z" fill="#cfe7e7" stroke="#cfe7e7" stroke-width="0.5"/>
<path d="M299.6,408.6L327.2,408.6L325.9,413.1L320.9,414.1L313.4,413.1L308.4,411.1Z" fill="#cfe7e7" stroke="#cfe7e7" stroke-width="0.5"/>
<path d="M346,409.3L351,409.3L351.5,414.3L347.3,415.1Z" fill="#c2d2e6" stroke="#c2d2e6" stroke-width="0.5"/>
<path d="M382.4,405.1L386.7,403.6L389.9,406.1L387.4,410.1L383.7,409.3Z" fill="#c2d2e6" stroke="#c2d2e6" stroke-width="0.5"/>
<path d="M272.7,513.5L274.5,505.9L283.3,503.9L290.8,504.7L295.8,507.9L294.6,513.5L297.1,518L275.8,518Z" fill="#cfe7e7" stroke="#cfe7e7" stroke-width="0.5"/>
<path d="M398.7,394.3L403.8,389.3L416.3,388L421.3,394.3L417.6,400.5L406.3,403.1L400,399.3Z" fill="#cfe7e7" stroke="#cfe7e7" stroke-width="0.5"/>
<path d="M361.1,438.2L364.9,442L373.6,431.9L384.9,433.2L386.2,445.7L388.7,452L400,458.3L407.5,463.3L410,454.5L411.3,445.7L420.1,436.9L431.4,442L442.6,439.4L446.4,447L453.9,454.5L461.5,455.3L466.5,460.8L472.8,468.3L469,472.1L456.5,474.6L443.9,475.8L436.4,479.6L435.1,488.4L432.6,493.4L421.3,499.7L416.3,504.7L425.1,507.2L430.1,511L431.4,518L371.1,518L368.6,511L358.6,505.9L352.3,498.4L343.5,489.6L338.5,485.9L336,475.8L336,450.7L348.5,455.8L358.6,458.3L363.6,450.7Z" fill="#cfe7e7" stroke="#cfe7e7" stroke-width="0.5"/>
<path d="M452.7,498.4L456.5,489.6L464,488.4L469,493.4L475.3,495.9L477.8,503.4L486.6,504.7L496.6,505.9L509.1,508.5L510.4,518L471.5,518L461.5,511L453.9,505.9Z" fill="#cfe7e7" stroke="#cfe7e7" stroke-width="0.5"/>
<path d="M412.5,427.6L417.6,426.1L420.1,430.7L415,432.7Z" fill="#cfe7e7" stroke="#cfe7e7" stroke-width="0.5"/>
<path d="M397.5,447L402.5,445.2L403.8,449.5L398.7,450.7Z" fill="#cfe7e7" stroke="#cfe7e7" stroke-width="0.5"/>
<path d="M437.6,493.4L443.9,491.4L445.2,495.4L439.4,496.4Z" fill="#cfe7e7" stroke="#cfe7e7" stroke-width="0.5"/>
<path d="M411.8,480.8L416.8,478.8L420.1,483.4L416.8,487.1L412.5,485.4Z" fill="#c2d2e6" stroke="#c2d2e6" stroke-width="0.5"/>
<path d="M382.4,405.6L387.4,404.3L390,407.6L386.2,410.1L383.2,408.6Z" fill="#c2d2e6" stroke="#c2d2e6" stroke-width="0.5"/>
<path d="M354.8,130L381.2,130L378.7,137.5L371.1,141.3L363.6,140L358.6,135Z" fill="#c2d2e6" stroke="#c2d2e6" stroke-width="0.5"/>
<path d="M441.4,130L459,130L453.9,133.8L446.4,133Z" fill="#c2d2e6" stroke="#c2d2e6" stroke-width="0.5"/>
<path d="M453.9,135L459,130L476.5,130L486.6,137.5L492.8,143.8L486.6,147.6L480.3,151.3L474,153.8L473.5,162.6L476.5,170.2L481.5,177.7L477.8,177.7L472.8,182.7L466.5,180.2L461,184L453.9,177.7L446.4,175.2L451.4,165.1L453.9,155.1L455.2,145.1Z" fill="#cfe7e7" stroke="#cfe7e7" stroke-width="0.5"/>
<path d="M413.8,172.7L422.6,167.6L431.4,170.2L436.4,167.6L446.4,175.2L453.9,177.7L461,184L459.5,190.2L451.4,189L441.4,192.7L436.4,189L425.1,190.2L421.3,186.5L413.8,184Z" fill="#cfe7e7" stroke="#cfe7e7" stroke-width="0.5"/>
<path d="M425.1,190.2L436.4,189L441.4,192.7L451.4,197.8L461.5,200.3L466.5,199L466.5,205.3L436.4,205.3L436.4,235.4L428.8,230.4L421.3,225.4L416.3,220.3L420.1,210.3L422.6,200.3Z" fill="#c2d2e6" stroke="#c2d2e6" stroke-width="0.5"/>
<path d="M474,156.3L480.3,152.6L486.6,148.8L494.1,144.6L499.1,151.3L509.2,152.6L510.4,157.1L505.4,162.6L500.4,167.6L495.4,170.2L491.6,173.9L496.6,178.9L490.3,184L486.6,186.5L480.3,177.7L476.5,171.4L475.3,163.9Z" fill="#c2d2e6" stroke="#c2d2e6" stroke-width="0.5"/>
<path d="M491.6,173.9L495.4,170.2L500.4,167.6L505.4,162.6L510.4,157.1L517.9,163.9L525.5,170.2L533,177.7L536.8,184L535.5,190.2L530.5,196.5L525.5,197.8L520.5,192.7L514.2,190.2L505.4,191.5L499.1,192.7L492.8,195.7L489.1,190.2L486.6,186.5L490.3,184L496.6,178.9Z" fill="#cfe7e7" stroke="#cfe7e7" stroke-width="0.5"/>
<path d="M492.8,195.7L499.1,192.7L505.4,191.5L514.2,190.2L520.5,192.7L525.5,197.8L530.5,196.5L534.3,202.8L540.5,207.8L543,217.8L545,225.4L541.8,227.9L536.8,226.6L530.5,225.4L525.5,229.1L519.2,234.1L514.2,239.2L505.4,240.4L499.1,241.7L496.6,247.9L495.4,253L487.8,250.5L482.8,242.9L484.1,235.4L487.8,227.9L485.3,217.8L484.1,205.3L480.3,202.8L486.6,201.5Z" fill="#c2d2e6" stroke="#c2d2e6" stroke-width="0.5"/>
<path d="M511.7,242.9L517.9,236.6L525.5,229.1L530.5,225.4L536.8,226.6L540.5,235.4L544.3,245.4L548.1,255.5L548.1,260L512.9,260L514.2,250.5Z" fill="#f0f0f0" stroke="#f0f0f0" stroke-width="0.5"/>
<path d="M523,244.2L528,242.9L531.7,247.9L529.2,253L524.2,251.7Z" fill="#c2d2e6" stroke="#c2d2e6" stroke-width="0.5"/>
<path d="M466.5,201.5L472.8,199.8L477.8,202.8L484.1,205.3L485.3,217.8L487.8,227.9L484.1,235.4L482.8,242.9L477.8,245.4L466.5,245.4Z" fill="#cfe7e7" stroke="#cfe7e7" stroke-width="0.5"/>
<path d="M461,184L466.5,180.2L472.8,182.7L477.8,177.7L484.1,184L489.1,189L492.8,195.7L489.1,201.5L484.1,199L476.5,197.3L466.5,198.3L461.5,196.5L459.5,190.2Z" fill="#c4c7d8" stroke="#c4c7d8" stroke-width="0.5"/>
<path d="M408.8,267.5L436.4,260L496.6,285.1L511.7,282.6L528,287.6L528,326.5L516.7,329L509.1,335.3L501.6,339L496.6,340.3L496.6,360.4L441.4,362.4L432.6,367.9L426.3,375.4L423.8,383L425.1,385.5L418.8,390L408.8,390L406.3,380.5L411.3,370.4L408.8,362.9L421.3,360.4L421.3,342.8L436.4,330.3L436.4,310.2L418.8,308.9L411.3,297.6L408.8,285.1Z" fill="#cfe7e7" stroke="#cfe7e7" stroke-width="0.5"/>
<path d="M419.3,285.1L423.8,282.6L430.1,282.1L432.6,288.9L430.1,293.9L422.6,296.4L418.8,291.4Z" fill="#c2d2e6" stroke="#c2d2e6" stroke-width="0.5"/>
<path d="M496.6,303.9L502.9,302.2L507.9,307.7L506.6,314L500.4,315.7L496.6,311.4Z" fill="#c2d2e6" stroke="#c2d2e6" stroke-width="0.5"/>
<path d="M398.7,374.2L403.3,372.4L405,376.7L401.7,379.2L398.7,377.4Z" fill="#c2d2e6" stroke="#c2d2e6" stroke-width="0.5"/>
<path d="M336,265L348,262.5L348,297.6L341,302.7L336,300.2Z" fill="#cfe7e7" stroke="#cfe7e7" stroke-width="0.5"/>
<path d="M336,335.3L348,332.8L348,360.4L336,360.4Z" fill="#cfe7e7" stroke="#cfe7e7" stroke-width="0.5"/>
<path d="M299.3,129.3L352.7,129.3L355.2,132.7L360.2,138.5L351,140.2L346,134.3L344.3,138.5L341,141L332.7,138.5L327.7,136L321,141L312.7,146L311,151L314.3,156.8L317.7,161L325.2,168.5L321,174.3L321.8,182.7L317.7,191L314.3,194.3L306,191.8L299.3,189.3Z" fill="#cfe7e7" stroke="#cfe7e7" stroke-width="0.5"/>
<path d="M325.2,168.5L331.8,167.7L336,171.8L340.2,170.2L342.7,176L347.7,184.3L351,191.8L349.3,196L346,194.3L341,195.2L336,197.7L335.2,202.7L332.7,206L317.7,199.3L314.3,194.3L317.7,191L321.8,182.7L321,174.3Z" fill="#cfe7e7" stroke="#cfe7e7" stroke-width="0.5"/>
<path d="M355.2,129.3L381,129.3L382.7,132.7L379.3,136L376,139.3L369.3,141.8L362.7,139.3L360.2,138.5L355.2,132.7Z" fill="#c2d2e6" stroke="#c2d2e6" stroke-width="0.5"/>
<path d="M299.3,190.2L306,191.8L314.3,194.3L317.7,199.3L312.7,202.7L307.7,206L304.3,212L299.3,212Z" fill="#c2d2e6" stroke="#c2d2e6" stroke-width="0.5"/>
<path d="M351,192.7L356,199.3L362.7,201L377.7,201L377.7,212L351,212L353.5,204.3L349.3,196Z" fill="#cfe7e7" stroke="#cfe7e7" stroke-width="0.5"/>
<path d="M415.2,168.5L424,167.7L424,196L419.3,195.2L412.7,187.7L414.7,179.3Z" fill="#cfe7e7" stroke="#cfe7e7" stroke-width="0.5"/>
<path d="M309.3,200L351,200L339.3,204.2L333.5,205L331.8,206.7L325.2,207.5L324.3,216.7L317.7,218.3L314.3,221.7L311.8,216.7L314.3,215.8L311.8,210L307.7,207.5Z" fill="#cfe7e7" stroke="#cfe7e7" stroke-width="0.5"/>
<path d="M331.8,235.8L336,232.5L346,230.8L353.5,229.2L354.3,221.7L357.7,216.7L355.2,212.5L353.5,206.7L351,200L377.7,200L377.7,253.3L348.5,253.3L348.5,266.7L339.3,265.8L336,260L333.5,250L331.8,243.3Z" fill="#cfe7e7" stroke="#cfe7e7" stroke-width="0.5"/>
<path d="M312.7,228.3L314.3,221.7L317.7,218.3L324.3,216.7L324.3,226.7L327.7,233.3L331.8,235.8L331.8,243.3L333.5,250L329.3,252.5L322.7,253.3L314.3,250L310.2,251.7L304.3,240L309.3,231.7Z" fill="#cfe7e7" stroke="#cfe7e7" stroke-width="0.5"/>
<path d="M321,273.3L324.3,269.2L329.3,270L334.3,265.8L339.3,265.8L348.5,266.7L348.5,286L319.3,286L320.2,278.3Z" fill="#cfe7e7" stroke="#cfe7e7" stroke-width="0.5"/>
<path d="M408,229.2L416,225L424,228.3L424,286L408,286Z" fill="#cfe7e7" stroke="#cfe7e7" stroke-width="0.5"/>
<path d="M299.3,200L309.3,200L307.7,207.5L302.7,211.7L301.8,216.7L311.8,216.7L314.3,221.7L312.7,228.3L309.3,231.7L304.3,240L299.3,241.7Z" fill="#c2d2e6" stroke="#c2d2e6" stroke-width="0.5"/>
<path d="M325.2,207.5L331.8,206.7L333.5,212.5L330.2,218.3L324.3,216.7Z" fill="#c2d2e6" stroke="#c2d2e6" stroke-width="0.5"/>
<path d="M310.2,251.7L314.3,250L322.7,253.3L329.3,252.5L333.5,256.7L334.3,265.8L329.3,270L324.3,269.2L321,273.3L312.7,273.3L308.5,268.3L309.3,258.3Z" fill="#c2d2e6" stroke="#c2d2e6" stroke-width="0.5"/>
<path d="M419.3,203.3L424,200L424,228.3L420.2,223.3L416.8,216.7Z" fill="#c2d2e6" stroke="#c2d2e6" stroke-width="0.5"/>
<path d="M466.5,230L485.3,230L485.3,236.3L479.1,240L466.5,241.3Z" fill="#cfe7e7" stroke="#cfe7e7" stroke-width="0.5"/>
<path d="M485.3,230L525.5,230L526.7,233.8L518,237.5L512.9,242.5L499.1,240L489.1,241.3L485.3,236.3Z" fill="#c2d2e6" stroke="#c2d2e6" stroke-width="0.5"/>
<path d="M496.1,262.6L500.4,252.6L499.1,240L512.9,242.5L514.2,255.1L518,262.6L518,271.4L511.7,276.4L504.2,280.2L499.1,286.5L496.1,290.2Z" fill="#f9fcf6" stroke="#f9fcf6" stroke-width="0.5"/>
<path d="M499.1,286.5L504.2,280.2L511.7,276.4L518,271.4L525.5,267.6L531.8,270.2L533,276.4L536.8,284L535.5,292.7L539.3,300.3L536.8,310.3L524.2,310.3L524.2,325.4L514.2,330.4L506.7,335.4L499.1,337.9L496.1,337.9L496.1,312.8L501.6,310.3L506.7,312.8L509.2,307.8L504.2,302.8L496.1,301.5L496.1,290.2Z" fill="#cfe7e7" stroke="#cfe7e7" stroke-width="0.5"/>
<path d="M496.1,301.5L504.2,302.8L509.2,307.8L506.7,312.8L501.6,310.3L496.1,312.8Z" fill="#c2d2e6" stroke="#c2d2e6" stroke-width="0.5"/>
<path d="M512.9,242.5L518,237.5L526.7,233.8L539.3,230L544.3,231.3L544.3,245.1L541.8,252.6L546.8,257.6L545.6,265.1L539.3,266.4L531.8,270.2L525.5,267.6L518,262.6L514.2,255.1Z" fill="#f0f0f0" stroke="#f0f0f0" stroke-width="0.5"/>
<path d="M523,245.1L528,243.8L531.8,248.8L529.7,254.6L524.2,253.8L522.2,249.6Z" fill="#c2d2e6" stroke="#c2d2e6" stroke-width="0.5"/>
<path d="M531.8,270.2L539.3,266.4L545.6,265.1L549.3,270.2L558.1,273.9L560.6,280.2L564.4,290.2L561.9,300.3L558.1,310.3L554.3,321.8L539.3,325.4L536.8,310.3L539.3,300.3L535.5,292.7L536.8,284L533,276.4Z" fill="#c2d2e6" stroke="#c2d2e6" stroke-width="0.5"/>
<path d="M236,380L364,380L364,466L236,466Z" fill="#f9fcf6"/>
<path d="M236,380L281.8,380L281,382L275.2,383L273.5,390L268.5,392.5L261,390L254.3,391.3L248.5,393.3L246.8,398.3L248.5,403.3L247.7,410.8L243.5,415.8L238.5,420.8L236,421.7Z" fill="#c2d2e6" stroke="#c2d2e6" stroke-width="0.5"/>
<path d="M248.5,393.3L254.3,391.3L261,390L265.2,394.2L268.5,401.7L271,407.5L270.2,413.3L271.8,419.2L266,420L263.5,422.5L268.5,425L267.7,430L261.8,430.8L257.7,435.8L252.7,434.2L252.7,421.7L251.8,415L250.2,411.7L251.8,405L252.7,400.8L249.3,401.7L246.8,398.3Z" fill="#cfe7e7" stroke="#cfe7e7" stroke-width="0.5"/>
<path d="M252.3,401.7L256,400.8L257.7,404.2L255.2,406.7L252.3,405.8Z" fill="#f9fcf6" stroke="#f9fcf6" stroke-width="0.5"/>
<path d="M281.8,380L299.3,380L319.3,380L317.7,385L323.5,387.5L321,393.3L322.7,400L326,407.5L326,408.7L299.3,408.7L299.3,399.2L291.8,396.7L287.7,390L283.5,384.2Z" fill="#cfe7e7" stroke="#cfe7e7" stroke-width="0.5"/>
<path d="M311,395.8L313.5,395L315.2,397.5L313.5,400.8L311,399.7Z" fill="#c2d2e6" stroke="#c2d2e6" stroke-width="0.5"/>
<path d="M341.8,402.5L346,397.5L352.7,400L364,397.5L364,408.7L341,408.7Z" fill="#cfe7e7" stroke="#cfe7e7" stroke-width="0.5"/>
<path d="M282.7,420L284.3,415L289.3,412.5L293.5,410.8L299.3,407.5L309.3,410L306,413.3L304.3,418.3L306,425L305.2,430L306,436.7L304.7,441.7L307.7,446.7L309.3,453.3L302.7,452.5L293.5,453.3L286,450.8L278.5,450L274.3,445.8L276,438.3L274.3,433.3L267.7,430L268.5,425L263.5,422.5L266,420L271.8,419.2Z" fill="#cfe7e7" stroke="#cfe7e7" stroke-width="0.5"/>
<path d="M294.3,417.5L297.7,415.3L301,418.3L299.3,424.2L296.8,425.8L295.2,421.7Z" fill="#c2d2e6" stroke="#c2d2e6" stroke-width="0.5"/>
<path d="M309.3,410L326.8,408.7L364,408.7L364,415.8L359.3,418L355.2,420.8L351,421.7L346,420.8L340.2,420L336,424.2L334.3,425L329.3,420L324.3,415.8L319.3,413.3L314.3,411.7Z" fill="#cfe7e7" stroke="#cfe7e7" stroke-width="0.5"/>
<path d="M346.3,409.7L350.7,409.2L351,414.7L347.7,414.2Z" fill="#c2d2e6" stroke="#c2d2e6" stroke-width="0.5"/>
<path d="M334.3,425L336,424.2L340.2,420L346,420.8L351,421.7L351,430L356,433.3L361,436.7L364,437.5L364,466L307.7,466L309.3,453.3L307.7,446.7L309.3,445.8L314.3,446.7L319.3,451.7L324.3,450.8L331.8,450L337.7,446.7L342.7,444.2L344.3,440L340.2,433.3L336,429.2Z" fill="#cfe7e7" stroke="#cfe7e7" stroke-width="0.5"/>
<path d="M351,433.3L355.2,432.5L356.8,438.3L361,441.7L364,445.8L364,453.3L360.2,456.7L356.8,451.7L352.7,448.3L350.2,444.2Z" fill="#c2d2e6" stroke="#c2d2e6" stroke-width="0.5"/>
<path d="M326.8,460L331,457.5L335.7,460L334.3,464.2L328.5,464.2Z" fill="#f9fcf6" stroke="#f9fcf6" stroke-width="0.5"/>
<path d="M236,430L239.3,435L241,444.2L246,443.3L251.8,442.5L247.7,446.7L243.5,451.7L246,456.7L248.5,461.7L252.7,462.5L257.7,458.3L264.3,455L270.2,458.3L271.8,461.7L270.2,466L236,466Z" fill="#c2d2e6" stroke="#c2d2e6" stroke-width="0.5"/>
<path d="M271.8,454.2L278.5,450L286,450.8L293.5,453.3L293.5,456.7L289.3,466L270.2,466L271.8,461.7L270.2,458.3Z" fill="#cfe7e7" stroke="#cfe7e7" stroke-width="0.5"/>
<path d="M293.5,453.3L302.7,452.5L309.3,453.3L307.7,466L289.3,466L293.5,456.7Z" fill="#c2d2e6" stroke="#c2d2e6" stroke-width="0.5"/>
<path d="M158,378L162,377L167,379L166,384L160,384Z" fill="#c2d2e6" stroke="#c2d2e6" stroke-width="0.5"/>
<path d="M154,211.6L166.6,207.8L176.6,200.8L180.4,194L185.4,199L195.4,203.3L197.9,209L194.9,216.6L197.9,226.6L204.2,229.1L211.7,224.9L221.8,222.8L225.5,219.1L223,212.8L222.5,202.8L216.8,197.8L223.5,193.5L230.6,191L235.6,192.2L236.8,201.5L243.1,202.8L250.6,200.8L254.4,194.7L257.2,195.7L255.7,202.8L251.1,206.5L251.9,216.6L255.7,219.1L258.7,225.4L259.4,235.4L264.4,240.4L268.2,241.7" fill="none" stroke="#ffffff" stroke-width="1.45" stroke-linejoin="round"/>
<path d="M272,267.5L267,272L260.7,278.8L253.1,275.6L245.6,278.8L241.9,283.8L230.6,288.9L228.1,295.1L233.1,297.6L225.5,306.4L223,311.4L224.3,319L215.5,325.2L205.5,331.5L201.7,340.3L203,350.3L197.9,356.6L194.2,362.9L195.4,370.4L200.5,377.9L190.4,385.5L187.9,390" fill="none" stroke="#ffffff" stroke-width="1.45" stroke-linejoin="round"/>
<path d="M184.1,388L182.9,394.3L184.1,395.5L190.4,403.1L197.9,400.5L205.5,399.3L210.5,408.1L215.5,419.4L213,425.6L214.3,433.2L216.8,442L218,453.7L214.3,460.8L210.5,470.8L205.5,485.9" fill="none" stroke="#ffffff" stroke-width="1.45" stroke-linejoin="round"/>
<path d="M216.8,442L225.5,433.2L226.8,442L230.6,438.2L236.8,442L240.6,450.7L246.9,446.2L251.1,442.7" fill="none" stroke="#ffffff" stroke-width="1.45" stroke-linejoin="round"/>
<path d="M281.8,380L281,382L275.2,383L273.5,390L268.5,392.5L261,390L254.3,391.3L248.5,393.3L246.8,398.3L248.5,403.3L247.7,410.8L251.8,415L252.7,421.7L252.7,434.2L251.8,442.5" fill="none" stroke="#ffffff" stroke-width="1.45" stroke-linejoin="round"/>
<path d="M263.5,422.5L266,420L271.8,419.2L278.5,420L280.2,425L285.2,425.8L289.3,427.5L291,433.3L292.7,438.3L295.2,439.2L296.8,444.2L304.3,444.2L306,446.7L307.7,453.3L307.7,466" fill="none" stroke="#ffffff" stroke-width="1.45" stroke-linejoin="round"/>
<path d="M315.9,482.1L322.2,488.4L323.9,498.4L322.2,507.2" fill="none" stroke="#ffffff" stroke-width="1.45" stroke-linejoin="round"/>
<path d="M347.3,71.5L341,81.6L340.3,89.1L347.3,96.6L348.5,100.4L344.8,106.6L335.2,114.2L333.5,120.5L342.3,124.2L352.3,128L354.8,130" fill="none" stroke="#ffffff" stroke-width="1.45" stroke-linejoin="round"/>
<path d="M289.6,101.6L299.6,97.4L304.6,93.4L310.9,91.6L312.2,97.9L309.6,104.1L313.4,110.4L316.7,115.4L313.4,118.4L307.1,115.4L298.3,115.9L293.3,112.9L291.6,106.6L289.6,101.6" fill="none" stroke="#ffffff" stroke-width="1.45" stroke-linejoin="round"/>
<path d="M272,82.8L279.5,95.4L287.1,102.9L289.6,101.6" fill="none" stroke="#ffffff" stroke-width="1.45" stroke-linejoin="round"/>
<path d="M316.7,115.4L322.2,118.4L332.2,120.5L333.5,120.5" fill="none" stroke="#ffffff" stroke-width="1.45" stroke-linejoin="round"/>
<path d="M208,329L215.5,325.7L223.1,320.2L224.3,310.2L226.8,306.4L234.3,297.6L228.1,293.9L230.6,290.1L241.9,283.8L245.6,278.8L253.2,275.6L259.4,282.1" fill="none" stroke="#ffffff" stroke-width="1.45" stroke-linejoin="round"/>
<path d="M127.7,271L131,267.7L136,269.3L137.7,274.3L136,277.7L136.8,283.5L131.8,286L128.5,282.7L127.7,276L127.7,271" fill="none" stroke="#ffffff" stroke-width="0.55" stroke-linejoin="round"/>
<path d="M136,277.7L141.8,276L144.3,272.7L149.3,274.3L151.8,279.3L151,283.5L144.3,285.2L136.8,283.5" fill="none" stroke="#ffffff" stroke-width="0.55" stroke-linejoin="round"/>
<path d="M151.8,279.3L152.7,273.5L160.2,272.7L163.5,276L160.2,281L153.5,283.5" fill="none" stroke="#ffffff" stroke-width="0.55" stroke-linejoin="round"/>
<path d="M163.5,276L165.2,267.7L169.3,266L176,266.8L178.5,272.7L176,281L171.8,283.5" fill="none" stroke="#ffffff" stroke-width="0.55" stroke-linejoin="round"/>
<path d="M121,281L126.8,282.7L128.5,282.7" fill="none" stroke="#ffffff" stroke-width="0.55" stroke-linejoin="round"/>
<path d="M131.8,286L130.2,291L131.8,296L136,300.2L139.3,306L141,309.3" fill="none" stroke="#ffffff" stroke-width="0.55" stroke-linejoin="round"/>
<path d="M119.3,288.5L124.3,287.7L130.2,291" fill="none" stroke="#ffffff" stroke-width="0.55" stroke-linejoin="round"/>
<path d="M116,295.2L118.5,299.3L116.8,306" fill="none" stroke="#ffffff" stroke-width="0.55" stroke-linejoin="round"/>
<path d="M116.8,306L122.7,311L129.3,311.8L133.5,309.3L139.3,306" fill="none" stroke="#ffffff" stroke-width="0.55" stroke-linejoin="round"/>
<path d="M133.5,309.3L136,316L135.2,321.8L140.2,327.7L146,328.5L150.2,326L151,321L147.7,314.3L146.8,313.5" fill="none" stroke="#ffffff" stroke-width="0.55" stroke-linejoin="round"/>
<path d="M140.2,327.7L141,331.8L137.3,334.3" fill="none" stroke="#ffffff" stroke-width="0.55" stroke-linejoin="round"/>
<path d="M150.2,326L154.3,324.3L160.2,321L164.3,321" fill="none" stroke="#ffffff" stroke-width="0.55" stroke-linejoin="round"/>
<path d="M151,321L156,317.7L157.7,314.3" fill="none" stroke="#ffffff" stroke-width="0.55" stroke-linejoin="round"/>
<path d="M144.3,285.2L142.7,290.2L146,296L147.7,297.7" fill="none" stroke="#ffffff" stroke-width="0.55" stroke-linejoin="round"/>
<path d="M151,283.5L149.3,289.3L153.5,291.8L159.3,289.3L160.2,296L161.8,296" fill="none" stroke="#ffffff" stroke-width="0.55" stroke-linejoin="round"/>
<path d="M153.5,283.5L159.3,289.3" fill="none" stroke="#ffffff" stroke-width="0.55" stroke-linejoin="round"/>
<path d="M145.2,336.8L146.8,334.3L151,334.3L153.5,337.7L151.8,342L146,342L145.2,336.8" fill="none" stroke="#ffffff" stroke-width="0.55" stroke-linejoin="round"/>
<path d="M400,54L402.5,62.7L410,61.5L412.5,54L415.1,45.2" fill="none" stroke="#ffffff" stroke-width="0.55" stroke-linejoin="round"/>
<path d="M415.1,45.2L420.1,57.7L430.1,62.7L441.4,67.8L448.9,65.7L461.5,60.2L464,54L462.7,47.7L455.7,42.7" fill="none" stroke="#ffffff" stroke-width="0.55" stroke-linejoin="round"/>
<path d="M441.4,67.8L437.6,80.3L432.6,87.8L431.4,96.6L423.8,94.1L420.1,102.9L416.3,104.1L410,97.9L400,87.8" fill="none" stroke="#ffffff" stroke-width="0.55" stroke-linejoin="round"/>
<path d="M416.3,104.1L418.8,111.7L416.3,120.5L418.8,130" fill="none" stroke="#ffffff" stroke-width="0.55" stroke-linejoin="round"/>
<path d="M448.9,65.7L457.7,71.5L460.2,79L466.5,80.3L475.3,86.6L486.6,90.3L489.1,92.8L485.3,100.4L486.6,107.9" fill="none" stroke="#ffffff" stroke-width="0.55" stroke-linejoin="round"/>
<path d="M374.9,72.8L382.4,70.3L388.7,75.3L389.9,84.1L382.4,87.8L376.1,89.1L374.9,96.6L368.6,99.1L367.4,102.9L359.8,104.1L352.3,100.4L348.5,100.4" fill="none" stroke="#ffffff" stroke-width="0.55" stroke-linejoin="round"/>
<path d="M389.9,84.1L402.5,95.4L412.5,101.6L416.3,103.4L417,112.9L415,123L416.3,130" fill="none" stroke="#ffffff" stroke-width="0.55" stroke-linejoin="round"/>
<path d="M216.2,329.2L219.5,339.2L225.3,344.2L230.3,343.3L238.7,342.5L243.7,341.7" fill="none" stroke="#ffffff" stroke-width="0.55" stroke-linejoin="round"/>
<path d="M225.3,344.2L223.7,350L227.8,355L227,360L223.7,365L220.3,366.7" fill="none" stroke="#ffffff" stroke-width="0.55" stroke-linejoin="round"/>
<path d="M227.8,360L237,360.8L242,364.2L247.8,363.3L253.7,361.7" fill="none" stroke="#ffffff" stroke-width="0.55" stroke-linejoin="round"/>
<path d="M203.7,351.7L210.3,356.7L215.3,362.5L220.3,366.7L225.3,371.7L229.5,378.3L233.7,383.3L235.3,386" fill="none" stroke="#ffffff" stroke-width="0.55" stroke-linejoin="round"/>
<path d="M220.3,366.7L213.7,370L211.2,373.3L213.7,380L215.3,386" fill="none" stroke="#ffffff" stroke-width="0.55" stroke-linejoin="round"/>
<path d="M211.2,373.3L205.3,377.5L200.3,376.7" fill="none" stroke="#ffffff" stroke-width="0.55" stroke-linejoin="round"/>
<path d="M237,386L238.7,380L245.3,378.3L250.3,381.7L258.7,378.3L262.8,371.7L262.8,365" fill="none" stroke="#ffffff" stroke-width="0.55" stroke-linejoin="round"/>
<path d="M272,366.7L278.7,370L285.3,373.3L287,378.3L280.3,381.7L274.5,386" fill="none" stroke="#ffffff" stroke-width="0.55" stroke-linejoin="round"/>
<path d="M218.7,461.2L227,464.5L235.3,467.8L238.7,471.2L245.3,465.3L248.7,462" fill="none" stroke="#ffffff" stroke-width="0.55" stroke-linejoin="round"/>
<path d="M238.7,471.2L239.5,478.7L243.7,482L252,480.3L258.7,482L265.3,481.2L272,479.5L273.7,476.2" fill="none" stroke="#ffffff" stroke-width="0.55" stroke-linejoin="round"/>
<path d="M207.8,483.7L212.8,477.8L219.5,480.3L222,487" fill="none" stroke="#ffffff" stroke-width="0.55" stroke-linejoin="round"/>
<path d="M222,487L230.3,485.3L236.2,482L239.5,478.7" fill="none" stroke="#ffffff" stroke-width="0.55" stroke-linejoin="round"/>
<path d="M265.3,481.2L263.7,488.7L262,494.5L259.5,498.7L262,503.7L268.7,505.3L275.3,506.2" fill="none" stroke="#ffffff" stroke-width="0.55" stroke-linejoin="round"/>
<path d="M272,479.5L278.7,482L282.8,488.7L287,493.7L286.2,500.3L280.3,503.7L275.3,506.2" fill="none" stroke="#ffffff" stroke-width="0.55" stroke-linejoin="round"/>
<path d="M282.8,488.7L292,492L300,487.8" fill="none" stroke="#ffffff" stroke-width="0.55" stroke-linejoin="round"/>
<path d="M243.7,482L242,488.7L247,493.7L248.7,502L250.3,505.3L257,510.3L259.5,498.7" fill="none" stroke="#ffffff" stroke-width="0.55" stroke-linejoin="round"/>
<path d="M248.7,502L243.7,498.7L238.7,497.8" fill="none" stroke="#ffffff" stroke-width="0.55" stroke-linejoin="round"/>
<path d="M249.5,469.5L253.7,467.8L260.3,472.8L262,476.2L255.3,477L252.8,472.8L249.5,469.5" fill="none" stroke="#ffffff" stroke-width="0.55" stroke-linejoin="round"/>
<path d="M197.8,502L201.2,498.7L207,501.2L207.8,507L203.7,510.3L198.7,507L197.8,502" fill="none" stroke="#ffffff" stroke-width="0.55" stroke-linejoin="round"/>
<path d="M223.7,447.8L229.5,447L235.3,449.5L233.7,454.5L227,454.5L223.7,447.8" fill="none" stroke="#ffffff" stroke-width="0.55" stroke-linejoin="round"/>
<path d="M188.7,507L197,512L205.3,515.3L213.7,513.7" fill="none" stroke="#ffffff" stroke-width="0.55" stroke-linejoin="round"/>
<path d="M364.9,442L369.9,450.7L366.1,459.5L372.4,463.3L373.6,474.6L368.6,483.4L358.6,490.9L352.3,498.4" fill="none" stroke="#ffffff" stroke-width="0.55" stroke-linejoin="round"/>
<path d="M372.4,463.3L386.2,452L388.7,452" fill="none" stroke="#ffffff" stroke-width="0.55" stroke-linejoin="round"/>
<path d="M373.6,474.6L386.2,480.8L390,484.6L396.2,470.8L407.5,463.3" fill="none" stroke="#ffffff" stroke-width="0.55" stroke-linejoin="round"/>
<path d="M390,484.6L395,493.4L393.7,505.9L396.2,518" fill="none" stroke="#ffffff" stroke-width="0.55" stroke-linejoin="round"/>
<path d="M396.2,470.8L407.5,468.3L418.8,467L427.6,473.3L436.4,479.6" fill="none" stroke="#ffffff" stroke-width="0.55" stroke-linejoin="round"/>
<path d="M427.6,473.3L431.4,460.8L436.4,455.8L438.9,445.7L442.6,439.4" fill="none" stroke="#ffffff" stroke-width="0.55" stroke-linejoin="round"/>
<path d="M390,484.6L401.2,483.4L411.3,488.4L416.3,504.7" fill="none" stroke="#ffffff" stroke-width="0.55" stroke-linejoin="round"/>
<path d="M336,475.8L348.5,470.8L358.6,458.3" fill="none" stroke="#ffffff" stroke-width="0.55" stroke-linejoin="round"/>
<path d="M348.5,470.8L359.8,482.1L368.6,483.4" fill="none" stroke="#ffffff" stroke-width="0.55" stroke-linejoin="round"/>
<path d="M250,81.5L255,79L263.3,78.7L268.3,79.8L271.7,84L276.7,92.3L281.7,99L288.3,104.8L290.8,104" fill="none" stroke="#ffffff" stroke-width="1.45" stroke-linejoin="round"/>
<path d="M220,227.8L225,225.3L230.8,227.8L232.5,233.7L230.8,239.5L224.2,240.3L219.2,237L220,227.8" fill="none" stroke="#ffffff" stroke-width="0.55" stroke-linejoin="round"/>
<path d="M230.8,227.8L238.3,225.3L246.7,223.7L250,220.3" fill="none" stroke="#ffffff" stroke-width="0.55" stroke-linejoin="round"/>
<path d="M232.5,233.7L235,242.8L239.2,250.3L245,251.2L248.3,247.8" fill="none" stroke="#ffffff" stroke-width="0.55" stroke-linejoin="round"/>
<path d="M220,256.2L226.7,247.8L235,246.2L239.2,250.3" fill="none" stroke="#ffffff" stroke-width="0.55" stroke-linejoin="round"/>
<path d="M221.7,222L226.7,220.3L233.3,217L240,220.3L246.7,219.5L250,215.3" fill="none" stroke="#ffffff" stroke-width="0.55" stroke-linejoin="round"/>
<path d="M275,213.7L280,222L285,225.3L290,220.3L295,215.3L299.2,213.7" fill="none" stroke="#ffffff" stroke-width="0.55" stroke-linejoin="round"/>
<path d="M285,225.3L283.3,232L286.7,237" fill="none" stroke="#ffffff" stroke-width="0.55" stroke-linejoin="round"/></g>
<rect x="348" y="253.8" width="30" height="107.4" fill="#009fc7"/>
<rect x="378" y="192.9" width="30" height="168.3" fill="#f59c00"/>
<rect x="436" y="204.7" width="30" height="156.5" fill="#009fc7"/>
<rect x="466" y="263.8" width="30" height="97.4" fill="#f59c00"/>
<rect x="524" y="310" width="30" height="51.2" fill="#009fc7"/>
<rect x="554" y="322" width="30" height="39.2" fill="#f59c00"/>
<rect x="612" y="316.9" width="30" height="44.3" fill="#009fc7"/>
<rect x="642" y="322" width="30" height="39.2" fill="#f59c00"/>
<rect x="700" y="352" width="30" height="9.2" fill="#009fc7"/>
<rect x="730" y="341" width="30" height="20.2" fill="#f59c00"/>
<rect x="334.5" y="360.9" width="434" height="1.1" fill="#2a2a2a"/>
</svg>
<div class="v" style="left:348px;top:235.5px">28</div>
<div class="v" style="left:378px;top:174.6px">43</div>
<div class="v" style="left:436px;top:186.4px">40</div>
<div class="v" style="left:466px;top:245.5px">25</div>
<div class="v" style="left:524px;top:291.7px">13</div>
<div class="v" style="left:554px;top:303.7px">10</div>
<div class="v" style="left:612px;top:298.6px">11</div>
<div class="v" style="left:642px;top:303.7px">10</div>
<div class="v" style="left:700px;top:333.7px">2</div>
<div class="v" style="left:730px;top:322.7px">5</div>
<div class="t" style="top:200.5px">40</div>
<div class="t" style="top:239.1px">30</div>
<div class="t" style="top:277.5px">20</div>
<div class="t" style="top:316px">10</div>
</body></html>
